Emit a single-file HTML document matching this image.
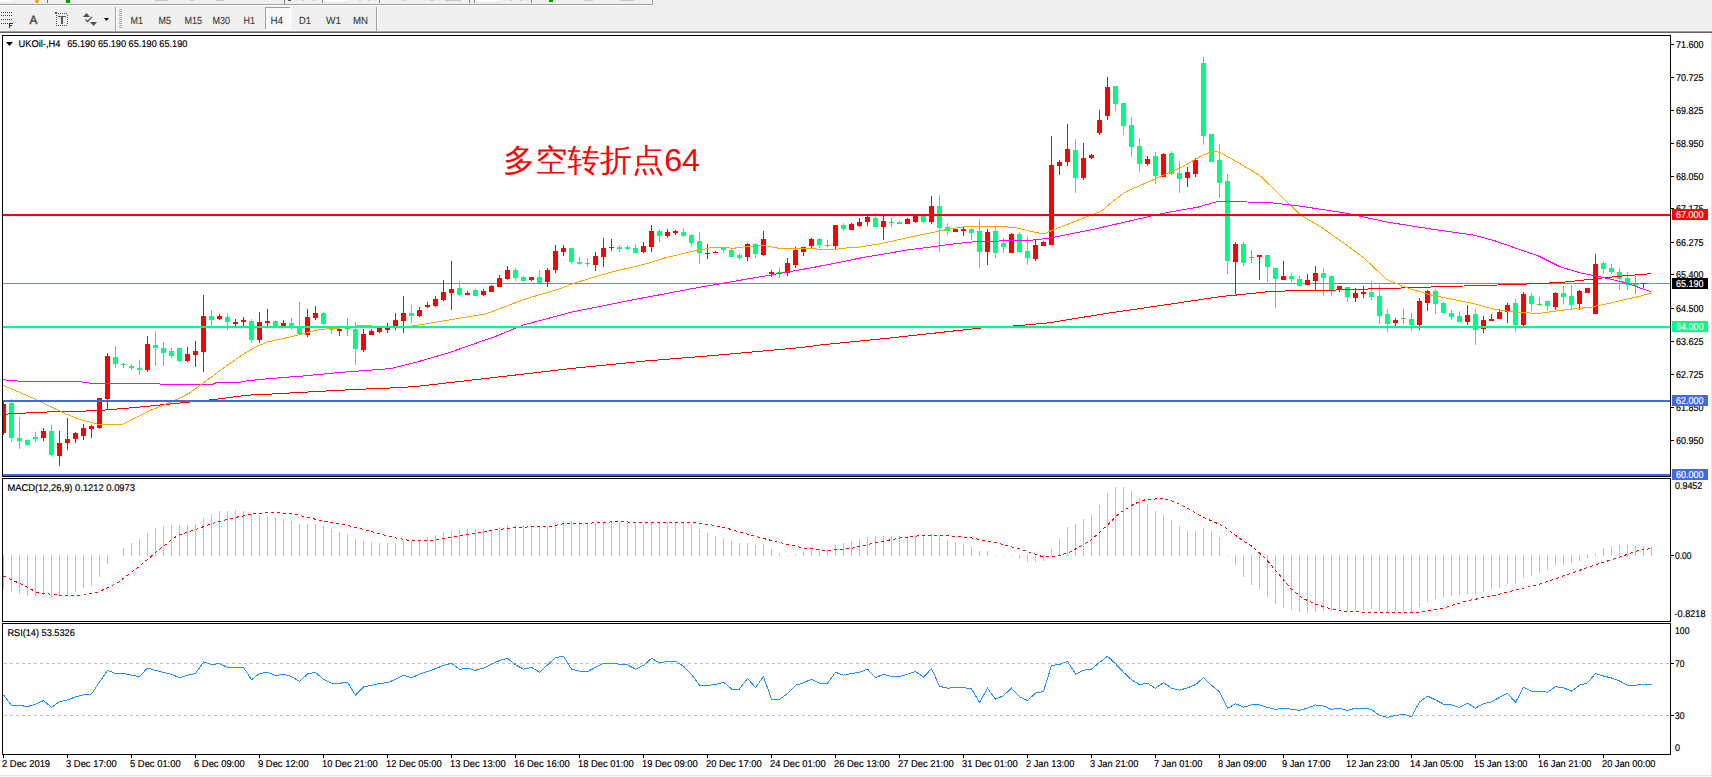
<!DOCTYPE html>
<html><head><meta charset="utf-8"><title>UKOil H4</title>
<style>
html,body{margin:0;padding:0;width:1712px;height:777px;overflow:hidden;background:#fff}
svg{display:block}
text{font-family:"Liberation Sans",sans-serif;text-rendering:geometricPrecision}
</style></head><body>
<svg width="1712" height="777" viewBox="0 0 1712 777">
<rect x="0" y="0" width="1712" height="33" fill="#f0f0f0"/>
<rect x="0" y="0" width="14" height="3" fill="#fafafa"/>
<rect x="1" y="2" width="1" height="1" fill="#d0d0d0"/>
<rect x="3" y="2" width="1" height="1" fill="#d0d0d0"/>
<rect x="5" y="2" width="1" height="1" fill="#d0d0d0"/>
<rect x="7" y="2" width="1" height="1" fill="#d0d0d0"/>
<rect x="9" y="2" width="1" height="1" fill="#d0d0d0"/>
<rect x="11" y="2" width="1" height="1" fill="#d0d0d0"/>
<rect x="13" y="2" width="1" height="1" fill="#d0d0d0"/>
<rect x="0" y="4" width="653" height="1" fill="#a0a0a0"/>
<rect x="0" y="5" width="653" height="1" fill="#ffffff"/>
<rect x="652" y="0" width="1" height="5" fill="#a0a0a0"/>
<rect x="35" y="0" width="4" height="2" fill="#e8b020"/>
<rect x="36" y="2" width="2" height="1" fill="#c89010"/>
<rect x="47" y="0" width="1" height="3" fill="#707070"/>
<rect x="66" y="0" width="4" height="3" fill="#00a000"/>
<rect x="155" y="0" width="13" height="1" fill="#c8c8c8"/>
<rect x="190" y="0" width="4" height="1" fill="#c8c8c8"/>
<rect x="216" y="0" width="8" height="1" fill="#c8c8c8"/>
<rect x="284" y="0" width="1" height="4" fill="#808080"/>
<rect x="288" y="0" width="3" height="1" fill="#505050"/>
<rect x="302" y="0" width="2" height="1" fill="#d0d0d0"/>
<rect x="313" y="0" width="2" height="1" fill="#d0d0d0"/>
<rect x="322" y="0" width="1" height="3" fill="#808080"/>
<rect x="323" y="0" width="24" height="3" fill="#fafafa"/>
<rect x="324" y="2" width="1" height="1" fill="#d0d0d0"/>
<rect x="326" y="2" width="1" height="1" fill="#d0d0d0"/>
<rect x="328" y="2" width="1" height="1" fill="#d0d0d0"/>
<rect x="330" y="2" width="1" height="1" fill="#d0d0d0"/>
<rect x="332" y="2" width="1" height="1" fill="#d0d0d0"/>
<rect x="334" y="2" width="1" height="1" fill="#d0d0d0"/>
<rect x="336" y="2" width="1" height="1" fill="#d0d0d0"/>
<rect x="338" y="2" width="1" height="1" fill="#d0d0d0"/>
<rect x="340" y="2" width="1" height="1" fill="#d0d0d0"/>
<rect x="342" y="2" width="1" height="1" fill="#d0d0d0"/>
<rect x="344" y="2" width="1" height="1" fill="#d0d0d0"/>
<rect x="346" y="2" width="1" height="1" fill="#d0d0d0"/>
<rect x="359" y="0" width="2" height="1" fill="#d0d0d0"/>
<rect x="368" y="0" width="2" height="1" fill="#d0d0d0"/>
<rect x="379" y="0" width="1" height="3" fill="#808080"/>
<rect x="402" y="0" width="4" height="1" fill="#d0d0d0"/>
<rect x="430" y="0" width="4" height="1" fill="#d0d0d0"/>
<rect x="445" y="0" width="16" height="1" fill="#c8c8c8"/>
<rect x="469" y="0" width="1" height="3" fill="#808080"/>
<rect x="474" y="0" width="1" height="3" fill="#808080"/>
<rect x="475" y="0" width="24" height="3" fill="#fafafa"/>
<rect x="476" y="2" width="1" height="1" fill="#d0d0d0"/>
<rect x="478" y="2" width="1" height="1" fill="#d0d0d0"/>
<rect x="480" y="2" width="1" height="1" fill="#d0d0d0"/>
<rect x="482" y="2" width="1" height="1" fill="#d0d0d0"/>
<rect x="484" y="2" width="1" height="1" fill="#d0d0d0"/>
<rect x="486" y="2" width="1" height="1" fill="#d0d0d0"/>
<rect x="488" y="2" width="1" height="1" fill="#d0d0d0"/>
<rect x="490" y="2" width="1" height="1" fill="#d0d0d0"/>
<rect x="492" y="2" width="1" height="1" fill="#d0d0d0"/>
<rect x="494" y="2" width="1" height="1" fill="#d0d0d0"/>
<rect x="496" y="2" width="1" height="1" fill="#d0d0d0"/>
<rect x="498" y="2" width="1" height="1" fill="#d0d0d0"/>
<rect x="510" y="0" width="2" height="1" fill="#d0d0d0"/>
<rect x="520" y="0" width="2" height="1" fill="#d0d0d0"/>
<rect x="531" y="0" width="1" height="3" fill="#808080"/>
<rect x="549" y="0" width="4" height="2" fill="#00a000"/>
<rect x="584" y="0" width="9" height="1" fill="#d0d0d0"/>
<rect x="620" y="0" width="14" height="1" fill="#c8c8c8"/>
<rect x="0" y="30" width="1712" height="1" fill="#f5f5f5"/>
<rect x="0" y="31" width="1712" height="1" fill="#a0a0a0"/>
<rect x="0" y="32" width="1712" height="1" fill="#646464"/>
<rect x="0" y="33" width="1712" height="744" fill="#ffffff"/>
<rect x="1" y="12" width="1" height="1" fill="#404040"/>
<rect x="3" y="12" width="1" height="1" fill="#404040"/>
<rect x="5" y="12" width="1" height="1" fill="#404040"/>
<rect x="7" y="12" width="1" height="1" fill="#404040"/>
<rect x="9" y="12" width="1" height="1" fill="#404040"/>
<rect x="11" y="12" width="1" height="1" fill="#404040"/>
<rect x="1" y="15" width="1" height="1" fill="#404040"/>
<rect x="3" y="15" width="1" height="1" fill="#404040"/>
<rect x="5" y="15" width="1" height="1" fill="#404040"/>
<rect x="7" y="15" width="1" height="1" fill="#404040"/>
<rect x="9" y="15" width="1" height="1" fill="#404040"/>
<rect x="11" y="15" width="1" height="1" fill="#404040"/>
<rect x="1" y="19" width="1" height="1" fill="#404040"/>
<rect x="3" y="19" width="1" height="1" fill="#404040"/>
<rect x="5" y="19" width="1" height="1" fill="#404040"/>
<rect x="7" y="19" width="1" height="1" fill="#404040"/>
<rect x="9" y="19" width="1" height="1" fill="#404040"/>
<rect x="11" y="19" width="1" height="1" fill="#404040"/>
<rect x="1" y="23" width="1" height="1" fill="#404040"/>
<rect x="3" y="23" width="1" height="1" fill="#404040"/>
<rect x="5" y="23" width="1" height="1" fill="#404040"/>
<rect x="7" y="23" width="1" height="1" fill="#404040"/>
<rect x="9" y="23" width="1" height="5" fill="#303030"/>
<rect x="9" y="23" width="4" height="1" fill="#303030"/>
<rect x="9" y="25" width="3" height="1" fill="#303030"/>
<text x="29.6" y="24" font-size="12" fill="#4a4a4a" textLength="7.8" lengthAdjust="spacingAndGlyphs" stroke="#4a4a4a" stroke-width="0.5">A</text>
<rect x="56" y="13" width="1" height="1" fill="#505050"/>
<rect x="56" y="25" width="1" height="1" fill="#505050"/>
<rect x="58" y="13" width="1" height="1" fill="#505050"/>
<rect x="58" y="25" width="1" height="1" fill="#505050"/>
<rect x="60" y="13" width="1" height="1" fill="#505050"/>
<rect x="60" y="25" width="1" height="1" fill="#505050"/>
<rect x="62" y="13" width="1" height="1" fill="#505050"/>
<rect x="62" y="25" width="1" height="1" fill="#505050"/>
<rect x="64" y="13" width="1" height="1" fill="#505050"/>
<rect x="64" y="25" width="1" height="1" fill="#505050"/>
<rect x="66" y="13" width="1" height="1" fill="#505050"/>
<rect x="66" y="25" width="1" height="1" fill="#505050"/>
<rect x="56" y="15" width="1" height="1" fill="#505050"/>
<rect x="67" y="15" width="1" height="1" fill="#505050"/>
<rect x="56" y="17" width="1" height="1" fill="#505050"/>
<rect x="67" y="17" width="1" height="1" fill="#505050"/>
<rect x="56" y="19" width="1" height="1" fill="#505050"/>
<rect x="67" y="19" width="1" height="1" fill="#505050"/>
<rect x="56" y="21" width="1" height="1" fill="#505050"/>
<rect x="67" y="21" width="1" height="1" fill="#505050"/>
<rect x="56" y="23" width="1" height="1" fill="#505050"/>
<rect x="67" y="23" width="1" height="1" fill="#505050"/>
<rect x="55" y="12" width="2" height="2" fill="#505050"/>
<rect x="58" y="16" width="8" height="1" fill="#555555"/>
<rect x="61" y="16" width="2" height="8" fill="#555555"/>
<polygon points="83,17 86.5,13 90,17" fill="#505050"/>
<polygon points="90,22 97,22 93.5,26" fill="#505050"/>
<polyline points="85.5,19.5 87.5,21.5 92,17" fill="none" stroke="#505050" stroke-width="1.3"/>
<polygon points="104,18 109,18 106.5,21" fill="#000"/>
<rect x="115" y="7" width="1" height="24" fill="#a0a0a0"/>
<rect x="116" y="7" width="1" height="24" fill="#ffffff"/>
<rect x="119" y="9" width="3" height="1" fill="#a8a8a8"/>
<rect x="119" y="11" width="3" height="1" fill="#a8a8a8"/>
<rect x="119" y="13" width="3" height="1" fill="#a8a8a8"/>
<rect x="119" y="15" width="3" height="1" fill="#a8a8a8"/>
<rect x="119" y="17" width="3" height="1" fill="#a8a8a8"/>
<rect x="119" y="19" width="3" height="1" fill="#a8a8a8"/>
<rect x="119" y="21" width="3" height="1" fill="#a8a8a8"/>
<rect x="119" y="23" width="3" height="1" fill="#a8a8a8"/>
<rect x="119" y="25" width="3" height="1" fill="#a8a8a8"/>
<rect x="119" y="27" width="3" height="1" fill="#a8a8a8"/>
<rect x="265" y="7" width="26" height="23" fill="#f7f7f7"/>
<rect x="265" y="7" width="25" height="1" fill="#a0a0a0"/>
<rect x="265" y="7" width="1" height="22" fill="#a0a0a0"/>
<rect x="265" y="29" width="26" height="1" fill="#ffffff"/>
<rect x="290" y="7" width="1" height="23" fill="#ffffff"/>
<text x="130.5" y="23.7" font-size="10.3" fill="#3a3a3a" textLength="12.5" lengthAdjust="spacingAndGlyphs" stroke="#3a3a3a" stroke-width="0.12">M1</text>
<text x="158.5" y="23.7" font-size="10.3" fill="#3a3a3a" textLength="12.5" lengthAdjust="spacingAndGlyphs" stroke="#3a3a3a" stroke-width="0.12">M5</text>
<text x="184.5" y="23.7" font-size="10.3" fill="#3a3a3a" textLength="17.5" lengthAdjust="spacingAndGlyphs" stroke="#3a3a3a" stroke-width="0.12">M15</text>
<text x="212.5" y="23.7" font-size="10.3" fill="#3a3a3a" textLength="17.5" lengthAdjust="spacingAndGlyphs" stroke="#3a3a3a" stroke-width="0.12">M30</text>
<text x="243.5" y="23.7" font-size="10.3" fill="#3a3a3a" textLength="11.5" lengthAdjust="spacingAndGlyphs" stroke="#3a3a3a" stroke-width="0.12">H1</text>
<text x="270.5" y="23.7" font-size="10.3" fill="#3a3a3a" textLength="12.5" lengthAdjust="spacingAndGlyphs" stroke="#3a3a3a" stroke-width="0.12">H4</text>
<text x="299" y="23.7" font-size="10.3" fill="#3a3a3a" textLength="12" lengthAdjust="spacingAndGlyphs" stroke="#3a3a3a" stroke-width="0.12">D1</text>
<text x="326" y="23.7" font-size="10.3" fill="#3a3a3a" textLength="15" lengthAdjust="spacingAndGlyphs" stroke="#3a3a3a" stroke-width="0.12">W1</text>
<text x="353" y="23.7" font-size="10.3" fill="#3a3a3a" textLength="15" lengthAdjust="spacingAndGlyphs" stroke="#3a3a3a" stroke-width="0.12">MN</text>
<rect x="376" y="7" width="1" height="24" fill="#a0a0a0"/>
<rect x="377" y="7" width="1" height="24" fill="#ffffff"/>
<rect x="3" y="283" width="1667" height="1" fill="#778899"/>
<g shape-rendering="crispEdges"><rect x="3" y="400" width="1" height="35" fill="#ff0000"/><rect x="3" y="404" width="3" height="29" fill="#ff0000"/><rect x="11" y="399" width="1" height="43" fill="#00ff7f"/><rect x="9" y="403" width="5" height="35" fill="#00ff7f"/><rect x="19" y="417" width="1" height="32" fill="#00ff7f"/><rect x="17" y="438" width="5" height="3" fill="#00ff7f"/><rect x="27" y="439" width="1" height="7" fill="#00ff7f"/><rect x="25" y="440" width="5" height="5" fill="#00ff7f"/><rect x="35" y="432" width="1" height="10" fill="#00ff7f"/><rect x="33" y="437" width="5" height="2" fill="#00ff7f"/><rect x="43" y="428" width="1" height="13" fill="#ff0000"/><rect x="41" y="431" width="5" height="7" fill="#ff0000"/><rect x="51" y="425" width="1" height="31" fill="#00ff7f"/><rect x="49" y="431" width="5" height="24" fill="#00ff7f"/><rect x="59" y="431" width="1" height="35" fill="#ff0000"/><rect x="57" y="443" width="5" height="13" fill="#ff0000"/><rect x="67" y="418" width="1" height="32" fill="#ff0000"/><rect x="65" y="439" width="5" height="4" fill="#ff0000"/><rect x="75" y="432" width="1" height="11" fill="#ff0000"/><rect x="73" y="433" width="5" height="6" fill="#ff0000"/><rect x="83" y="424" width="1" height="16" fill="#ff0000"/><rect x="81" y="428" width="5" height="8" fill="#ff0000"/><rect x="91" y="425" width="1" height="13" fill="#ff0000"/><rect x="89" y="426" width="5" height="3" fill="#ff0000"/><rect x="99" y="398" width="1" height="31" fill="#ff0000"/><rect x="97" y="398" width="5" height="30" fill="#ff0000"/><rect x="107" y="353" width="1" height="56" fill="#ff0000"/><rect x="105" y="356" width="5" height="43" fill="#ff0000"/><rect x="115" y="346" width="1" height="22" fill="#00ff7f"/><rect x="113" y="357" width="5" height="7" fill="#00ff7f"/><rect x="123" y="363" width="1" height="5" fill="#00ff00"/><rect x="121" y="364" width="5" height="1" fill="#00ff00"/><rect x="131" y="364" width="1" height="6" fill="#00ff7f"/><rect x="129" y="366" width="5" height="2" fill="#00ff7f"/><rect x="139" y="360" width="1" height="15" fill="#00ff7f"/><rect x="137" y="368" width="5" height="2" fill="#00ff7f"/><rect x="147" y="336" width="1" height="36" fill="#ff0000"/><rect x="145" y="344" width="5" height="26" fill="#ff0000"/><rect x="155" y="331" width="1" height="35" fill="#00ff7f"/><rect x="153" y="345" width="5" height="3" fill="#00ff7f"/><rect x="163" y="342" width="1" height="24" fill="#00ff7f"/><rect x="161" y="348" width="5" height="5" fill="#00ff7f"/><rect x="171" y="348" width="1" height="10" fill="#00ff7f"/><rect x="169" y="351" width="5" height="5" fill="#00ff7f"/><rect x="179" y="348" width="1" height="14" fill="#00ff7f"/><rect x="177" y="348" width="5" height="13" fill="#00ff7f"/><rect x="187" y="347" width="1" height="15" fill="#ff0000"/><rect x="185" y="354" width="5" height="7" fill="#ff0000"/><rect x="195" y="341" width="1" height="26" fill="#ff0000"/><rect x="193" y="351" width="5" height="4" fill="#ff0000"/><rect x="203" y="295" width="1" height="77" fill="#ff0000"/><rect x="201" y="316" width="5" height="36" fill="#ff0000"/><rect x="211" y="310" width="1" height="19" fill="#00ff7f"/><rect x="209" y="316" width="5" height="4" fill="#00ff7f"/><rect x="219" y="314" width="1" height="6" fill="#ff0000"/><rect x="217" y="316" width="5" height="3" fill="#ff0000"/><rect x="227" y="313" width="1" height="17" fill="#00ff7f"/><rect x="225" y="317" width="5" height="5" fill="#00ff7f"/><rect x="235" y="319" width="1" height="7" fill="#ff0000"/><rect x="233" y="322" width="5" height="2" fill="#ff0000"/><rect x="243" y="317" width="1" height="9" fill="#ff0000"/><rect x="241" y="320" width="5" height="2" fill="#ff0000"/><rect x="251" y="319" width="1" height="24" fill="#00ff7f"/><rect x="249" y="321" width="5" height="19" fill="#00ff7f"/><rect x="259" y="312" width="1" height="31" fill="#ff0000"/><rect x="257" y="322" width="5" height="18" fill="#ff0000"/><rect x="267" y="309" width="1" height="17" fill="#ff0000"/><rect x="265" y="321" width="5" height="2" fill="#ff0000"/><rect x="275" y="320" width="1" height="7" fill="#00ff7f"/><rect x="273" y="321" width="5" height="6" fill="#00ff7f"/><rect x="283" y="320" width="1" height="6" fill="#ff0000"/><rect x="281" y="323" width="5" height="3" fill="#ff0000"/><rect x="291" y="318" width="1" height="12" fill="#00ff7f"/><rect x="289" y="323" width="5" height="4" fill="#00ff7f"/><rect x="299" y="302" width="1" height="32" fill="#00ff7f"/><rect x="297" y="327" width="5" height="7" fill="#00ff7f"/><rect x="307" y="309" width="1" height="28" fill="#ff0000"/><rect x="305" y="317" width="5" height="18" fill="#ff0000"/><rect x="315" y="306" width="1" height="14" fill="#ff0000"/><rect x="313" y="313" width="5" height="5" fill="#ff0000"/><rect x="323" y="312" width="1" height="13" fill="#00ff7f"/><rect x="321" y="313" width="5" height="11" fill="#00ff7f"/><rect x="331" y="327" width="1" height="7" fill="#00ff7f"/><rect x="329" y="328" width="5" height="2" fill="#00ff7f"/><rect x="339" y="328" width="1" height="8" fill="#ff0000"/><rect x="337" y="329" width="5" height="2" fill="#ff0000"/><rect x="347" y="318" width="1" height="18" fill="#00ff00"/><rect x="345" y="328" width="5" height="1" fill="#00ff00"/><rect x="355" y="322" width="1" height="43" fill="#00ff7f"/><rect x="353" y="329" width="5" height="20" fill="#00ff7f"/><rect x="363" y="329" width="1" height="23" fill="#ff0000"/><rect x="361" y="334" width="5" height="16" fill="#ff0000"/><rect x="371" y="329" width="1" height="6" fill="#ff0000"/><rect x="369" y="331" width="5" height="4" fill="#ff0000"/><rect x="379" y="328" width="1" height="5" fill="#ff0000"/><rect x="377" y="328" width="5" height="4" fill="#ff0000"/><rect x="387" y="323" width="1" height="10" fill="#ff0000"/><rect x="385" y="328" width="5" height="2" fill="#ff0000"/><rect x="395" y="313" width="1" height="17" fill="#ff0000"/><rect x="393" y="320" width="5" height="6" fill="#ff0000"/><rect x="403" y="296" width="1" height="37" fill="#ff0000"/><rect x="401" y="313" width="5" height="8" fill="#ff0000"/><rect x="411" y="305" width="1" height="18" fill="#00ff7f"/><rect x="409" y="313" width="5" height="3" fill="#00ff7f"/><rect x="419" y="307" width="1" height="10" fill="#ff0000"/><rect x="417" y="310" width="5" height="6" fill="#ff0000"/><rect x="427" y="302" width="1" height="6" fill="#ff0000"/><rect x="425" y="305" width="5" height="2" fill="#ff0000"/><rect x="435" y="296" width="1" height="11" fill="#ff0000"/><rect x="433" y="299" width="5" height="7" fill="#ff0000"/><rect x="443" y="280" width="1" height="21" fill="#ff0000"/><rect x="441" y="292" width="5" height="8" fill="#ff0000"/><rect x="451" y="261" width="1" height="49" fill="#ff0000"/><rect x="449" y="289" width="5" height="4" fill="#ff0000"/><rect x="459" y="281" width="1" height="15" fill="#00ff7f"/><rect x="457" y="288" width="5" height="7" fill="#00ff7f"/><rect x="467" y="291" width="1" height="4" fill="#ff0000"/><rect x="465" y="293" width="5" height="2" fill="#ff0000"/><rect x="475" y="289" width="1" height="7" fill="#00ff7f"/><rect x="473" y="290" width="5" height="6" fill="#00ff7f"/><rect x="483" y="289" width="1" height="7" fill="#ff0000"/><rect x="481" y="291" width="5" height="4" fill="#ff0000"/><rect x="491" y="285" width="1" height="7" fill="#ff0000"/><rect x="489" y="286" width="5" height="6" fill="#ff0000"/><rect x="499" y="275" width="1" height="12" fill="#ff0000"/><rect x="497" y="278" width="5" height="9" fill="#ff0000"/><rect x="507" y="266" width="1" height="14" fill="#ff0000"/><rect x="505" y="270" width="5" height="9" fill="#ff0000"/><rect x="515" y="268" width="1" height="13" fill="#00ff7f"/><rect x="513" y="270" width="5" height="8" fill="#00ff7f"/><rect x="523" y="276" width="1" height="5" fill="#00ff7f"/><rect x="521" y="277" width="5" height="4" fill="#00ff7f"/><rect x="531" y="277" width="1" height="4" fill="#ff0000"/><rect x="529" y="277" width="5" height="3" fill="#ff0000"/><rect x="539" y="270" width="1" height="13" fill="#00ff7f"/><rect x="537" y="277" width="5" height="6" fill="#00ff7f"/><rect x="547" y="268" width="1" height="19" fill="#ff0000"/><rect x="545" y="270" width="5" height="12" fill="#ff0000"/><rect x="555" y="245" width="1" height="28" fill="#ff0000"/><rect x="553" y="251" width="5" height="19" fill="#ff0000"/><rect x="563" y="245" width="1" height="11" fill="#ff0000"/><rect x="561" y="248" width="5" height="4" fill="#ff0000"/><rect x="571" y="248" width="1" height="16" fill="#00ff7f"/><rect x="569" y="248" width="5" height="14" fill="#00ff7f"/><rect x="579" y="257" width="1" height="8" fill="#00ff7f"/><rect x="577" y="262" width="5" height="2" fill="#00ff7f"/><rect x="587" y="258" width="1" height="9" fill="#00ff7f"/><rect x="585" y="263" width="5" height="1" fill="#00ff7f"/><rect x="595" y="252" width="1" height="19" fill="#ff0000"/><rect x="593" y="256" width="5" height="9" fill="#ff0000"/><rect x="603" y="238" width="1" height="29" fill="#ff0000"/><rect x="601" y="248" width="5" height="9" fill="#ff0000"/><rect x="611" y="239" width="1" height="12" fill="#ff0000"/><rect x="609" y="247" width="5" height="1" fill="#ff0000"/><rect x="619" y="245" width="1" height="7" fill="#00ff7f"/><rect x="617" y="247" width="5" height="2" fill="#00ff7f"/><rect x="627" y="245" width="1" height="5" fill="#00ff7f"/><rect x="625" y="247" width="5" height="2" fill="#00ff7f"/><rect x="635" y="244" width="1" height="9" fill="#00ff7f"/><rect x="633" y="248" width="5" height="5" fill="#00ff7f"/><rect x="643" y="242" width="1" height="11" fill="#ff0000"/><rect x="641" y="246" width="5" height="6" fill="#ff0000"/><rect x="651" y="225" width="1" height="27" fill="#ff0000"/><rect x="649" y="231" width="5" height="16" fill="#ff0000"/><rect x="659" y="229" width="1" height="13" fill="#00ff7f"/><rect x="657" y="231" width="5" height="5" fill="#00ff7f"/><rect x="667" y="229" width="1" height="9" fill="#ff0000"/><rect x="665" y="232" width="5" height="4" fill="#ff0000"/><rect x="675" y="230" width="1" height="5" fill="#ff0000"/><rect x="673" y="231" width="5" height="2" fill="#ff0000"/><rect x="683" y="228" width="1" height="9" fill="#00ff7f"/><rect x="681" y="232" width="5" height="4" fill="#00ff7f"/><rect x="691" y="234" width="1" height="13" fill="#00ff7f"/><rect x="689" y="235" width="5" height="8" fill="#00ff7f"/><rect x="699" y="232" width="1" height="32" fill="#00ff7f"/><rect x="697" y="241" width="5" height="12" fill="#00ff7f"/><rect x="707" y="244" width="1" height="15" fill="#ff0000"/><rect x="705" y="253" width="5" height="1" fill="#ff0000"/><rect x="715" y="251" width="1" height="2" fill="#ff0000"/><rect x="713" y="252" width="5" height="1" fill="#ff0000"/><rect x="723" y="248" width="1" height="5" fill="#00ff7f"/><rect x="721" y="248" width="5" height="2" fill="#00ff7f"/><rect x="731" y="249" width="1" height="8" fill="#00ff7f"/><rect x="729" y="250" width="5" height="7" fill="#00ff7f"/><rect x="739" y="253" width="1" height="7" fill="#00ff7f"/><rect x="737" y="255" width="5" height="3" fill="#00ff7f"/><rect x="747" y="243" width="1" height="18" fill="#ff0000"/><rect x="745" y="244" width="5" height="13" fill="#ff0000"/><rect x="755" y="243" width="1" height="15" fill="#00ff7f"/><rect x="753" y="244" width="5" height="10" fill="#00ff7f"/><rect x="763" y="231" width="1" height="25" fill="#ff0000"/><rect x="761" y="239" width="5" height="16" fill="#ff0000"/><rect x="771" y="270" width="1" height="7" fill="#ff0000"/><rect x="769" y="272" width="5" height="2" fill="#ff0000"/><rect x="779" y="268" width="1" height="10" fill="#00ff00"/><rect x="777" y="272" width="5" height="1" fill="#00ff00"/><rect x="787" y="258" width="1" height="18" fill="#ff0000"/><rect x="785" y="263" width="5" height="10" fill="#ff0000"/><rect x="795" y="247" width="1" height="21" fill="#ff0000"/><rect x="793" y="250" width="5" height="15" fill="#ff0000"/><rect x="803" y="247" width="1" height="9" fill="#ff0000"/><rect x="801" y="247" width="5" height="5" fill="#ff0000"/><rect x="811" y="238" width="1" height="10" fill="#ff0000"/><rect x="809" y="239" width="5" height="7" fill="#ff0000"/><rect x="819" y="238" width="1" height="10" fill="#00ff7f"/><rect x="817" y="239" width="5" height="6" fill="#00ff7f"/><rect x="827" y="240" width="1" height="7" fill="#00ff00"/><rect x="825" y="245" width="5" height="1" fill="#00ff00"/><rect x="835" y="225" width="1" height="24" fill="#ff0000"/><rect x="833" y="225" width="5" height="21" fill="#ff0000"/><rect x="843" y="223" width="1" height="8" fill="#00ff7f"/><rect x="841" y="225" width="5" height="4" fill="#00ff7f"/><rect x="851" y="223" width="1" height="7" fill="#ff0000"/><rect x="849" y="224" width="5" height="6" fill="#ff0000"/><rect x="859" y="218" width="1" height="9" fill="#ff0000"/><rect x="857" y="222" width="5" height="4" fill="#ff0000"/><rect x="867" y="216" width="1" height="10" fill="#ff0000"/><rect x="865" y="217" width="5" height="5" fill="#ff0000"/><rect x="875" y="213" width="1" height="14" fill="#00ff7f"/><rect x="873" y="218" width="5" height="9" fill="#00ff7f"/><rect x="883" y="216" width="1" height="24" fill="#ff0000"/><rect x="881" y="221" width="5" height="6" fill="#ff0000"/><rect x="891" y="218" width="1" height="9" fill="#00ff00"/><rect x="889" y="222" width="5" height="1" fill="#00ff00"/><rect x="899" y="221" width="1" height="3" fill="#00ff7f"/><rect x="897" y="222" width="5" height="2" fill="#00ff7f"/><rect x="907" y="218" width="1" height="6" fill="#ff0000"/><rect x="905" y="219" width="5" height="5" fill="#ff0000"/><rect x="915" y="215" width="1" height="8" fill="#ff0000"/><rect x="913" y="216" width="5" height="6" fill="#ff0000"/><rect x="923" y="215" width="1" height="8" fill="#00ff7f"/><rect x="921" y="216" width="5" height="6" fill="#00ff7f"/><rect x="931" y="196" width="1" height="28" fill="#ff0000"/><rect x="929" y="206" width="5" height="16" fill="#ff0000"/><rect x="939" y="195" width="1" height="57" fill="#00ff7f"/><rect x="937" y="206" width="5" height="22" fill="#00ff7f"/><rect x="947" y="223" width="1" height="12" fill="#00ff7f"/><rect x="945" y="227" width="5" height="4" fill="#00ff7f"/><rect x="955" y="229" width="1" height="3" fill="#ff0000"/><rect x="953" y="229" width="5" height="3" fill="#ff0000"/><rect x="963" y="226" width="1" height="10" fill="#ff0000"/><rect x="961" y="229" width="5" height="2" fill="#ff0000"/><rect x="971" y="228" width="1" height="12" fill="#00ff7f"/><rect x="969" y="229" width="5" height="4" fill="#00ff7f"/><rect x="979" y="219" width="1" height="49" fill="#00ff7f"/><rect x="977" y="231" width="5" height="21" fill="#00ff7f"/><rect x="987" y="229" width="1" height="36" fill="#ff0000"/><rect x="985" y="232" width="5" height="20" fill="#ff0000"/><rect x="995" y="227" width="1" height="31" fill="#00ff7f"/><rect x="993" y="231" width="5" height="22" fill="#00ff7f"/><rect x="1003" y="238" width="1" height="15" fill="#00ff7f"/><rect x="1001" y="243" width="5" height="4" fill="#00ff7f"/><rect x="1011" y="233" width="1" height="20" fill="#ff0000"/><rect x="1009" y="234" width="5" height="19" fill="#ff0000"/><rect x="1019" y="232" width="1" height="20" fill="#00ff7f"/><rect x="1017" y="234" width="5" height="18" fill="#00ff7f"/><rect x="1027" y="236" width="1" height="29" fill="#00ff7f"/><rect x="1025" y="251" width="5" height="7" fill="#00ff7f"/><rect x="1035" y="240" width="1" height="21" fill="#ff0000"/><rect x="1033" y="245" width="5" height="14" fill="#ff0000"/><rect x="1043" y="241" width="1" height="5" fill="#ff0000"/><rect x="1041" y="242" width="5" height="4" fill="#ff0000"/><rect x="1051" y="136" width="1" height="109" fill="#ff0000"/><rect x="1049" y="165" width="5" height="80" fill="#ff0000"/><rect x="1059" y="160" width="1" height="15" fill="#ff0000"/><rect x="1057" y="162" width="5" height="4" fill="#ff0000"/><rect x="1067" y="124" width="1" height="42" fill="#ff0000"/><rect x="1065" y="149" width="5" height="13" fill="#ff0000"/><rect x="1075" y="139" width="1" height="54" fill="#00ff7f"/><rect x="1073" y="150" width="5" height="28" fill="#00ff7f"/><rect x="1083" y="143" width="1" height="37" fill="#ff0000"/><rect x="1081" y="158" width="5" height="20" fill="#ff0000"/><rect x="1091" y="154" width="1" height="5" fill="#ff0000"/><rect x="1089" y="155" width="5" height="3" fill="#ff0000"/><rect x="1099" y="110" width="1" height="25" fill="#ff0000"/><rect x="1097" y="120" width="5" height="13" fill="#ff0000"/><rect x="1107" y="77" width="1" height="43" fill="#ff0000"/><rect x="1105" y="87" width="5" height="29" fill="#ff0000"/><rect x="1115" y="86" width="1" height="25" fill="#00ff7f"/><rect x="1113" y="86" width="5" height="18" fill="#00ff7f"/><rect x="1123" y="103" width="1" height="32" fill="#00ff7f"/><rect x="1121" y="103" width="5" height="23" fill="#00ff7f"/><rect x="1131" y="117" width="1" height="40" fill="#00ff7f"/><rect x="1129" y="125" width="5" height="22" fill="#00ff7f"/><rect x="1139" y="138" width="1" height="34" fill="#00ff7f"/><rect x="1137" y="146" width="5" height="18" fill="#00ff7f"/><rect x="1147" y="156" width="1" height="10" fill="#ff0000"/><rect x="1145" y="159" width="5" height="5" fill="#ff0000"/><rect x="1155" y="152" width="1" height="32" fill="#00ff7f"/><rect x="1153" y="156" width="5" height="20" fill="#00ff7f"/><rect x="1163" y="153" width="1" height="24" fill="#ff0000"/><rect x="1161" y="154" width="5" height="23" fill="#ff0000"/><rect x="1171" y="151" width="1" height="24" fill="#00ff7f"/><rect x="1169" y="153" width="5" height="21" fill="#00ff7f"/><rect x="1179" y="161" width="1" height="32" fill="#00ff7f"/><rect x="1177" y="173" width="5" height="6" fill="#00ff7f"/><rect x="1187" y="167" width="1" height="20" fill="#ff0000"/><rect x="1185" y="172" width="5" height="6" fill="#ff0000"/><rect x="1195" y="158" width="1" height="19" fill="#ff0000"/><rect x="1193" y="160" width="5" height="14" fill="#ff0000"/><rect x="1203" y="57" width="1" height="88" fill="#00ff7f"/><rect x="1201" y="63" width="5" height="73" fill="#00ff7f"/><rect x="1211" y="134" width="1" height="28" fill="#00ff7f"/><rect x="1209" y="134" width="5" height="28" fill="#00ff7f"/><rect x="1219" y="144" width="1" height="54" fill="#00ff7f"/><rect x="1217" y="160" width="5" height="23" fill="#00ff7f"/><rect x="1227" y="174" width="1" height="100" fill="#00ff7f"/><rect x="1225" y="181" width="5" height="80" fill="#00ff7f"/><rect x="1235" y="242" width="1" height="52" fill="#ff0000"/><rect x="1233" y="244" width="5" height="18" fill="#ff0000"/><rect x="1243" y="242" width="1" height="24" fill="#00ff7f"/><rect x="1241" y="244" width="5" height="19" fill="#00ff7f"/><rect x="1251" y="250" width="1" height="13" fill="#00ff00"/><rect x="1249" y="257" width="5" height="1" fill="#00ff00"/><rect x="1259" y="255" width="1" height="25" fill="#ff0000"/><rect x="1257" y="255" width="5" height="2" fill="#ff0000"/><rect x="1267" y="255" width="1" height="27" fill="#00ff7f"/><rect x="1265" y="255" width="5" height="12" fill="#00ff7f"/><rect x="1275" y="268" width="1" height="40" fill="#00ff7f"/><rect x="1273" y="268" width="5" height="11" fill="#00ff7f"/><rect x="1283" y="261" width="1" height="19" fill="#ff0000"/><rect x="1281" y="276" width="5" height="4" fill="#ff0000"/><rect x="1291" y="273" width="1" height="9" fill="#00ff7f"/><rect x="1289" y="276" width="5" height="3" fill="#00ff7f"/><rect x="1299" y="276" width="1" height="10" fill="#00ff7f"/><rect x="1297" y="279" width="5" height="7" fill="#00ff7f"/><rect x="1307" y="274" width="1" height="11" fill="#ff0000"/><rect x="1305" y="280" width="5" height="5" fill="#ff0000"/><rect x="1315" y="266" width="1" height="24" fill="#ff0000"/><rect x="1313" y="273" width="5" height="8" fill="#ff0000"/><rect x="1323" y="268" width="1" height="28" fill="#00ff7f"/><rect x="1321" y="273" width="5" height="5" fill="#00ff7f"/><rect x="1331" y="275" width="1" height="21" fill="#00ff7f"/><rect x="1329" y="276" width="5" height="14" fill="#00ff7f"/><rect x="1339" y="286" width="1" height="6" fill="#ff0000"/><rect x="1337" y="286" width="5" height="3" fill="#ff0000"/><rect x="1347" y="287" width="1" height="15" fill="#00ff7f"/><rect x="1345" y="287" width="5" height="10" fill="#00ff7f"/><rect x="1355" y="288" width="1" height="14" fill="#ff0000"/><rect x="1353" y="293" width="5" height="5" fill="#ff0000"/><rect x="1363" y="286" width="1" height="12" fill="#ff0000"/><rect x="1361" y="292" width="5" height="2" fill="#ff0000"/><rect x="1371" y="281" width="1" height="19" fill="#00ff7f"/><rect x="1369" y="292" width="5" height="5" fill="#00ff7f"/><rect x="1379" y="285" width="1" height="39" fill="#00ff7f"/><rect x="1377" y="296" width="5" height="20" fill="#00ff7f"/><rect x="1387" y="309" width="1" height="23" fill="#00ff7f"/><rect x="1385" y="314" width="5" height="10" fill="#00ff7f"/><rect x="1395" y="318" width="1" height="8" fill="#ff0000"/><rect x="1393" y="320" width="5" height="3" fill="#ff0000"/><rect x="1403" y="309" width="1" height="15" fill="#00ff00"/><rect x="1401" y="318" width="5" height="1" fill="#00ff00"/><rect x="1411" y="313" width="1" height="18" fill="#00ff7f"/><rect x="1409" y="319" width="5" height="6" fill="#00ff7f"/><rect x="1419" y="298" width="1" height="32" fill="#ff0000"/><rect x="1417" y="301" width="5" height="24" fill="#ff0000"/><rect x="1427" y="290" width="1" height="21" fill="#ff0000"/><rect x="1425" y="291" width="5" height="12" fill="#ff0000"/><rect x="1435" y="289" width="1" height="25" fill="#00ff7f"/><rect x="1433" y="291" width="5" height="13" fill="#00ff7f"/><rect x="1443" y="302" width="1" height="11" fill="#00ff7f"/><rect x="1441" y="303" width="5" height="10" fill="#00ff7f"/><rect x="1451" y="310" width="1" height="10" fill="#00ff7f"/><rect x="1449" y="313" width="5" height="4" fill="#00ff7f"/><rect x="1459" y="311" width="1" height="11" fill="#00ff7f"/><rect x="1457" y="316" width="5" height="6" fill="#00ff7f"/><rect x="1467" y="305" width="1" height="20" fill="#ff0000"/><rect x="1465" y="315" width="5" height="7" fill="#ff0000"/><rect x="1475" y="309" width="1" height="36" fill="#00ff7f"/><rect x="1473" y="314" width="5" height="16" fill="#00ff7f"/><rect x="1483" y="316" width="1" height="17" fill="#ff0000"/><rect x="1481" y="320" width="5" height="9" fill="#ff0000"/><rect x="1491" y="314" width="1" height="7" fill="#ff0000"/><rect x="1489" y="319" width="5" height="2" fill="#ff0000"/><rect x="1499" y="309" width="1" height="10" fill="#ff0000"/><rect x="1497" y="312" width="5" height="7" fill="#ff0000"/><rect x="1507" y="303" width="1" height="20" fill="#ff0000"/><rect x="1505" y="305" width="5" height="7" fill="#ff0000"/><rect x="1515" y="299" width="1" height="33" fill="#00ff7f"/><rect x="1513" y="303" width="5" height="22" fill="#00ff7f"/><rect x="1523" y="292" width="1" height="34" fill="#ff0000"/><rect x="1521" y="294" width="5" height="31" fill="#ff0000"/><rect x="1531" y="293" width="1" height="18" fill="#00ff7f"/><rect x="1529" y="296" width="5" height="8" fill="#00ff7f"/><rect x="1539" y="297" width="1" height="7" fill="#00ff00"/><rect x="1537" y="304" width="5" height="1" fill="#00ff00"/><rect x="1547" y="301" width="1" height="10" fill="#00ff7f"/><rect x="1545" y="301" width="5" height="5" fill="#00ff7f"/><rect x="1555" y="292" width="1" height="18" fill="#ff0000"/><rect x="1553" y="293" width="5" height="14" fill="#ff0000"/><rect x="1563" y="286" width="1" height="18" fill="#00ff7f"/><rect x="1561" y="293" width="5" height="4" fill="#00ff7f"/><rect x="1571" y="285" width="1" height="24" fill="#00ff7f"/><rect x="1569" y="296" width="5" height="9" fill="#00ff7f"/><rect x="1579" y="290" width="1" height="20" fill="#ff0000"/><rect x="1577" y="291" width="5" height="13" fill="#ff0000"/><rect x="1587" y="288" width="1" height="5" fill="#ff0000"/><rect x="1585" y="288" width="5" height="5" fill="#ff0000"/><rect x="1595" y="254" width="1" height="60" fill="#ff0000"/><rect x="1593" y="264" width="5" height="50" fill="#ff0000"/><rect x="1603" y="261" width="1" height="13" fill="#00ff7f"/><rect x="1601" y="263" width="5" height="6" fill="#00ff7f"/><rect x="1611" y="264" width="1" height="10" fill="#00ff7f"/><rect x="1609" y="268" width="5" height="4" fill="#00ff7f"/><rect x="1619" y="268" width="1" height="22" fill="#00ff7f"/><rect x="1617" y="272" width="5" height="7" fill="#00ff7f"/><rect x="1627" y="272" width="1" height="18" fill="#00ff7f"/><rect x="1625" y="278" width="5" height="7" fill="#00ff7f"/><rect x="1635" y="276" width="1" height="18" fill="#00ff00"/><rect x="1633" y="284" width="5" height="1" fill="#00ff00"/><rect x="1643" y="283" width="1" height="5" fill="#ff0000"/><rect x="1641" y="283" width="5" height="1" fill="#ff0000"/><rect x="1649" y="283" width="5" height="1" fill="#00ff00"/></g>
<g shape-rendering="crispEdges">
<polyline points="3.0,414.3 22.5,413.2 47.5,412.0 78.5,411.4 105.2,410.0 134.1,407.6 163.1,404.7 192.0,401.8 215.5,399.3 247.5,395.2 277.9,393.7 340.5,390.2 368.5,388.9 400.5,387.6 420.5,386.0 498.5,377.0 572.2,368.4 645.5,361.0 719.5,355.0 800.5,347.6 820.5,345.0 893.1,337.7 982.5,327.8 1007.5,326.5 1047.5,323.0 1109.3,313.0 1171.1,304.0 1220.5,296.6 1238.5,294.8 1265.5,292.0 1292.5,290.6 1322.5,290.5 1350.5,289.5 1386.5,288.5 1415.5,287.5 1447.5,286.5 1480.5,285.5 1515.5,284.5 1539.5,283.5 1559.5,282.5 1571.5,281.5 1579.5,280.5 1588.5,279.5 1606.5,277.5 1627.5,275.5 1643.5,274.5 1651.5,273.5" fill="none" stroke="#ff0000" stroke-width="1" />
<polyline points="3.0,379.8 28.5,381.8 71.5,381.2 88.1,382.5 90.5,383.5 158.5,383.6 161.5,384.5 212.5,384.5 216.5,382.5 240.0,382.3 247.5,380.7 270.3,378.5 300.7,376.2 340.5,372.4 391.3,368.5 420.5,361.0 449.5,352.5 498.5,335.3 523.2,325.0 572.2,312.0 633.5,299.7 665.5,293.7 691.2,288.8 717.0,284.3 742.7,279.8 765.5,276.0 786.2,272.2 812.0,267.7 837.7,262.6 860.5,258.0 881.2,254.5 907.0,250.0 932.7,246.8 955.5,243.6 976.2,241.6 1014.9,240.6 1030.3,240.3 1050.5,238.0 1091.8,229.7 1140.5,218.5 1162.5,213.4 1179.1,210.4 1198.5,207.0 1217.7,201.4 1247.5,202.0 1272.5,203.0 1289.0,204.7 1300.5,206.2 1343.7,212.7 1386.9,222.0 1430.2,228.9 1473.4,235.0 1495.0,240.8 1516.5,248.4 1538.2,255.9 1559.8,266.7 1581.5,273.2 1603.1,277.5 1624.7,282.5 1650.5,291.6" fill="none" stroke="#ff00ff" stroke-width="1" />
<polyline points="3.0,385.3 34.5,398.8 65.5,413.8 80.5,419.5 98.7,424.5 123.0,424.2 133.7,418.7 148.8,411.1 164.0,405.0 177.7,399.0 189.8,392.9 202.0,383.8 212.5,376.2 224.8,367.0 240.0,356.4 255.1,347.3 267.3,342.0 285.5,338.0 300.7,334.4 315.9,330.3 331.1,328.4 350.5,327.5 358.5,325.0 368.5,325.0 372.5,326.2 410.5,326.2 418.5,325.0 449.5,320.0 486.5,313.7 523.2,299.7 560.0,288.7 572.2,283.8 609.0,272.7 645.5,264.0 665.5,257.7 678.4,254.7 691.2,251.5 699.9,250.0 708.0,248.3 711.8,247.4 727.3,247.4 732.5,248.6 737.5,247.6 760.5,245.2 768.2,246.2 778.5,248.2 815.8,248.2 817.1,249.3 837.7,249.3 840.3,248.2 855.5,247.7 881.2,243.6 907.0,237.8 932.7,232.4 950.5,228.8 967.2,226.4 999.4,226.4 1014.9,227.5 1027.7,230.7 1040.5,233.3 1044.5,233.6 1050.5,231.0 1068.5,224.0 1091.8,214.7 1101.1,211.2 1114.9,199.6 1126.5,191.5 1152.5,180.0 1183.5,166.3 1202.0,155.5 1213.5,151.0 1220.5,152.7 1240.5,164.0 1259.2,175.0 1272.5,187.6 1289.0,203.8 1300.5,214.9 1322.1,227.8 1343.7,243.0 1365.3,259.2 1386.9,279.7 1408.5,288.3 1430.2,294.8 1451.8,299.1 1473.4,303.5 1495.0,309.5 1516.5,312.1 1538.2,313.6 1559.8,310.4 1580.5,308.2 1590.2,307.3 1599.8,305.3 1609.5,303.4 1619.1,301.0 1628.8,298.6 1638.5,296.6 1648.1,294.0 1651.5,293.0" fill="none" stroke="#ffa500" stroke-width="1" />
</g>
<rect x="3" y="214" width="1667" height="2" fill="#ff0000"/>
<rect x="3" y="326" width="1667" height="2" fill="#00ff7f"/>
<rect x="3" y="400" width="1667" height="2" fill="#4169e1"/>
<rect x="3" y="474" width="1667" height="2" fill="#4169e1"/>
<text x="503" y="171" font-size="31.5" fill="#ff0000" textLength="197" lengthAdjust="spacingAndGlyphs" font-family='"Liberation Sans","Noto Sans CJK SC","WenQuanYi Zen Hei",sans-serif' >多空转折点64</text>
<polygon points="6,42 13,42 9.5,46" fill="#000"/>
<text x="18.5" y="47" font-size="9.8" fill="#000" textLength="42" lengthAdjust="spacingAndGlyphs"  stroke="#000" stroke-width="0.18">UKOil-,H4</text>
<text x="67.2" y="47" font-size="9.8" fill="#000" textLength="120.3" lengthAdjust="spacingAndGlyphs"  stroke="#000" stroke-width="0.18">65.190 65.190 65.190 65.190</text>
<g shape-rendering="crispEdges"><rect x="3" y="555" width="1" height="35" fill="#c0c0c0"/><rect x="11" y="555" width="1" height="37" fill="#c0c0c0"/><rect x="19" y="555" width="1" height="39" fill="#c0c0c0"/><rect x="27" y="555" width="1" height="41" fill="#c0c0c0"/><rect x="35" y="555" width="1" height="41" fill="#c0c0c0"/><rect x="43" y="555" width="1" height="40" fill="#c0c0c0"/><rect x="51" y="555" width="1" height="43" fill="#c0c0c0"/><rect x="59" y="555" width="1" height="40" fill="#c0c0c0"/><rect x="67" y="555" width="1" height="39" fill="#c0c0c0"/><rect x="75" y="555" width="1" height="37" fill="#c0c0c0"/><rect x="83" y="555" width="1" height="33" fill="#c0c0c0"/><rect x="91" y="555" width="1" height="31" fill="#c0c0c0"/><rect x="99" y="555" width="1" height="22" fill="#c0c0c0"/><rect x="107" y="555" width="1" height="9" fill="#c0c0c0"/><rect x="123" y="548" width="1" height="8" fill="#c0c0c0"/><rect x="131" y="543" width="1" height="13" fill="#c0c0c0"/><rect x="139" y="539" width="1" height="17" fill="#c0c0c0"/><rect x="147" y="533" width="1" height="23" fill="#c0c0c0"/><rect x="155" y="528" width="1" height="28" fill="#c0c0c0"/><rect x="163" y="526" width="1" height="30" fill="#c0c0c0"/><rect x="171" y="525" width="1" height="31" fill="#c0c0c0"/><rect x="179" y="525" width="1" height="31" fill="#c0c0c0"/><rect x="187" y="525" width="1" height="31" fill="#c0c0c0"/><rect x="195" y="524" width="1" height="32" fill="#c0c0c0"/><rect x="203" y="518" width="1" height="38" fill="#c0c0c0"/><rect x="211" y="514" width="1" height="42" fill="#c0c0c0"/><rect x="219" y="511" width="1" height="45" fill="#c0c0c0"/><rect x="227" y="511" width="1" height="45" fill="#c0c0c0"/><rect x="235" y="510" width="1" height="46" fill="#c0c0c0"/><rect x="243" y="511" width="1" height="45" fill="#c0c0c0"/><rect x="251" y="514" width="1" height="42" fill="#c0c0c0"/><rect x="259" y="515" width="1" height="41" fill="#c0c0c0"/><rect x="267" y="516" width="1" height="40" fill="#c0c0c0"/><rect x="275" y="518" width="1" height="38" fill="#c0c0c0"/><rect x="283" y="519" width="1" height="37" fill="#c0c0c0"/><rect x="291" y="521" width="1" height="35" fill="#c0c0c0"/><rect x="299" y="524" width="1" height="32" fill="#c0c0c0"/><rect x="307" y="524" width="1" height="32" fill="#c0c0c0"/><rect x="315" y="524" width="1" height="32" fill="#c0c0c0"/><rect x="323" y="526" width="1" height="30" fill="#c0c0c0"/><rect x="331" y="529" width="1" height="27" fill="#c0c0c0"/><rect x="339" y="532" width="1" height="24" fill="#c0c0c0"/><rect x="347" y="534" width="1" height="22" fill="#c0c0c0"/><rect x="355" y="539" width="1" height="17" fill="#c0c0c0"/><rect x="363" y="541" width="1" height="15" fill="#c0c0c0"/><rect x="371" y="542" width="1" height="14" fill="#c0c0c0"/><rect x="379" y="543" width="1" height="13" fill="#c0c0c0"/><rect x="387" y="543" width="1" height="13" fill="#c0c0c0"/><rect x="395" y="543" width="1" height="13" fill="#c0c0c0"/><rect x="403" y="541" width="1" height="15" fill="#c0c0c0"/><rect x="411" y="541" width="1" height="15" fill="#c0c0c0"/><rect x="419" y="541" width="1" height="15" fill="#c0c0c0"/><rect x="427" y="537" width="1" height="19" fill="#c0c0c0"/><rect x="435" y="535" width="1" height="21" fill="#c0c0c0"/><rect x="443" y="532" width="1" height="24" fill="#c0c0c0"/><rect x="451" y="530" width="1" height="26" fill="#c0c0c0"/><rect x="459" y="529" width="1" height="27" fill="#c0c0c0"/><rect x="467" y="529" width="1" height="27" fill="#c0c0c0"/><rect x="475" y="529" width="1" height="27" fill="#c0c0c0"/><rect x="483" y="529" width="1" height="27" fill="#c0c0c0"/><rect x="491" y="530" width="1" height="26" fill="#c0c0c0"/><rect x="499" y="527" width="1" height="29" fill="#c0c0c0"/><rect x="507" y="525" width="1" height="31" fill="#c0c0c0"/><rect x="515" y="525" width="1" height="31" fill="#c0c0c0"/><rect x="523" y="525" width="1" height="31" fill="#c0c0c0"/><rect x="531" y="526" width="1" height="30" fill="#c0c0c0"/><rect x="539" y="526" width="1" height="30" fill="#c0c0c0"/><rect x="547" y="526" width="1" height="30" fill="#c0c0c0"/><rect x="555" y="523" width="1" height="33" fill="#c0c0c0"/><rect x="563" y="521" width="1" height="35" fill="#c0c0c0"/><rect x="571" y="521" width="1" height="35" fill="#c0c0c0"/><rect x="579" y="522" width="1" height="34" fill="#c0c0c0"/><rect x="587" y="523" width="1" height="33" fill="#c0c0c0"/><rect x="595" y="523" width="1" height="33" fill="#c0c0c0"/><rect x="603" y="522" width="1" height="34" fill="#c0c0c0"/><rect x="611" y="522" width="1" height="34" fill="#c0c0c0"/><rect x="619" y="522" width="1" height="34" fill="#c0c0c0"/><rect x="627" y="523" width="1" height="33" fill="#c0c0c0"/><rect x="635" y="524" width="1" height="32" fill="#c0c0c0"/><rect x="643" y="525" width="1" height="31" fill="#c0c0c0"/><rect x="651" y="522" width="1" height="34" fill="#c0c0c0"/><rect x="659" y="522" width="1" height="34" fill="#c0c0c0"/><rect x="667" y="522" width="1" height="34" fill="#c0c0c0"/><rect x="675" y="522" width="1" height="34" fill="#c0c0c0"/><rect x="683" y="522" width="1" height="34" fill="#c0c0c0"/><rect x="691" y="525" width="1" height="31" fill="#c0c0c0"/><rect x="699" y="529" width="1" height="27" fill="#c0c0c0"/><rect x="707" y="533" width="1" height="23" fill="#c0c0c0"/><rect x="715" y="536" width="1" height="20" fill="#c0c0c0"/><rect x="723" y="538" width="1" height="18" fill="#c0c0c0"/><rect x="731" y="541" width="1" height="15" fill="#c0c0c0"/><rect x="739" y="543" width="1" height="13" fill="#c0c0c0"/><rect x="747" y="543" width="1" height="13" fill="#c0c0c0"/><rect x="755" y="545" width="1" height="11" fill="#c0c0c0"/><rect x="763" y="544" width="1" height="12" fill="#c0c0c0"/><rect x="771" y="549" width="1" height="7" fill="#c0c0c0"/><rect x="779" y="553" width="1" height="3" fill="#c0c0c0"/><rect x="787" y="555" width="1" height="1" fill="#c0c0c0"/><rect x="795" y="554" width="1" height="2" fill="#c0c0c0"/><rect x="803" y="552" width="1" height="4" fill="#c0c0c0"/><rect x="811" y="550" width="1" height="6" fill="#c0c0c0"/><rect x="819" y="549" width="1" height="7" fill="#c0c0c0"/><rect x="827" y="549" width="1" height="7" fill="#c0c0c0"/><rect x="835" y="545" width="1" height="11" fill="#c0c0c0"/><rect x="843" y="543" width="1" height="13" fill="#c0c0c0"/><rect x="851" y="541" width="1" height="15" fill="#c0c0c0"/><rect x="859" y="539" width="1" height="17" fill="#c0c0c0"/><rect x="867" y="537" width="1" height="19" fill="#c0c0c0"/><rect x="875" y="536" width="1" height="20" fill="#c0c0c0"/><rect x="883" y="536" width="1" height="20" fill="#c0c0c0"/><rect x="891" y="536" width="1" height="20" fill="#c0c0c0"/><rect x="899" y="536" width="1" height="20" fill="#c0c0c0"/><rect x="907" y="536" width="1" height="20" fill="#c0c0c0"/><rect x="915" y="535" width="1" height="21" fill="#c0c0c0"/><rect x="923" y="535" width="1" height="21" fill="#c0c0c0"/><rect x="931" y="534" width="1" height="22" fill="#c0c0c0"/><rect x="939" y="537" width="1" height="19" fill="#c0c0c0"/><rect x="947" y="540" width="1" height="16" fill="#c0c0c0"/><rect x="955" y="542" width="1" height="14" fill="#c0c0c0"/><rect x="963" y="544" width="1" height="12" fill="#c0c0c0"/><rect x="971" y="546" width="1" height="10" fill="#c0c0c0"/><rect x="979" y="551" width="1" height="5" fill="#c0c0c0"/><rect x="987" y="551" width="1" height="5" fill="#c0c0c0"/><rect x="995" y="555" width="1" height="1" fill="#c0c0c0"/><rect x="1003" y="555" width="1" height="1" fill="#c0c0c0"/><rect x="1011" y="555" width="1" height="1" fill="#c0c0c0"/><rect x="1019" y="555" width="1" height="4" fill="#c0c0c0"/><rect x="1027" y="555" width="1" height="7" fill="#c0c0c0"/><rect x="1035" y="555" width="1" height="7" fill="#c0c0c0"/><rect x="1043" y="555" width="1" height="6" fill="#c0c0c0"/><rect x="1051" y="549" width="1" height="7" fill="#c0c0c0"/><rect x="1059" y="538" width="1" height="18" fill="#c0c0c0"/><rect x="1067" y="527" width="1" height="29" fill="#c0c0c0"/><rect x="1075" y="524" width="1" height="32" fill="#c0c0c0"/><rect x="1083" y="519" width="1" height="37" fill="#c0c0c0"/><rect x="1091" y="514" width="1" height="42" fill="#c0c0c0"/><rect x="1099" y="505" width="1" height="51" fill="#c0c0c0"/><rect x="1107" y="493" width="1" height="63" fill="#c0c0c0"/><rect x="1115" y="487" width="1" height="69" fill="#c0c0c0"/><rect x="1123" y="487" width="1" height="69" fill="#c0c0c0"/><rect x="1131" y="491" width="1" height="65" fill="#c0c0c0"/><rect x="1139" y="498" width="1" height="58" fill="#c0c0c0"/><rect x="1147" y="504" width="1" height="52" fill="#c0c0c0"/><rect x="1155" y="511" width="1" height="45" fill="#c0c0c0"/><rect x="1163" y="514" width="1" height="42" fill="#c0c0c0"/><rect x="1171" y="520" width="1" height="36" fill="#c0c0c0"/><rect x="1179" y="526" width="1" height="30" fill="#c0c0c0"/><rect x="1187" y="530" width="1" height="26" fill="#c0c0c0"/><rect x="1195" y="531" width="1" height="25" fill="#c0c0c0"/><rect x="1203" y="528" width="1" height="28" fill="#c0c0c0"/><rect x="1211" y="531" width="1" height="25" fill="#c0c0c0"/><rect x="1219" y="537" width="1" height="19" fill="#c0c0c0"/><rect x="1227" y="555" width="1" height="1" fill="#c0c0c0"/><rect x="1235" y="555" width="1" height="10" fill="#c0c0c0"/><rect x="1243" y="555" width="1" height="22" fill="#c0c0c0"/><rect x="1251" y="555" width="1" height="30" fill="#c0c0c0"/><rect x="1259" y="555" width="1" height="35" fill="#c0c0c0"/><rect x="1267" y="555" width="1" height="42" fill="#c0c0c0"/><rect x="1275" y="555" width="1" height="49" fill="#c0c0c0"/><rect x="1283" y="555" width="1" height="53" fill="#c0c0c0"/><rect x="1291" y="555" width="1" height="55" fill="#c0c0c0"/><rect x="1299" y="555" width="1" height="57" fill="#c0c0c0"/><rect x="1307" y="555" width="1" height="59" fill="#c0c0c0"/><rect x="1315" y="555" width="1" height="57" fill="#c0c0c0"/><rect x="1323" y="555" width="1" height="56" fill="#c0c0c0"/><rect x="1331" y="555" width="1" height="56" fill="#c0c0c0"/><rect x="1339" y="555" width="1" height="56" fill="#c0c0c0"/><rect x="1347" y="555" width="1" height="56" fill="#c0c0c0"/><rect x="1355" y="555" width="1" height="55" fill="#c0c0c0"/><rect x="1363" y="555" width="1" height="55" fill="#c0c0c0"/><rect x="1371" y="555" width="1" height="54" fill="#c0c0c0"/><rect x="1379" y="555" width="1" height="56" fill="#c0c0c0"/><rect x="1387" y="555" width="1" height="57" fill="#c0c0c0"/><rect x="1395" y="555" width="1" height="57" fill="#c0c0c0"/><rect x="1403" y="555" width="1" height="57" fill="#c0c0c0"/><rect x="1411" y="555" width="1" height="57" fill="#c0c0c0"/><rect x="1419" y="555" width="1" height="52" fill="#c0c0c0"/><rect x="1427" y="555" width="1" height="47" fill="#c0c0c0"/><rect x="1435" y="555" width="1" height="44" fill="#c0c0c0"/><rect x="1443" y="555" width="1" height="42" fill="#c0c0c0"/><rect x="1451" y="555" width="1" height="41" fill="#c0c0c0"/><rect x="1459" y="555" width="1" height="40" fill="#c0c0c0"/><rect x="1467" y="555" width="1" height="39" fill="#c0c0c0"/><rect x="1475" y="555" width="1" height="40" fill="#c0c0c0"/><rect x="1483" y="555" width="1" height="37" fill="#c0c0c0"/><rect x="1491" y="555" width="1" height="35" fill="#c0c0c0"/><rect x="1499" y="555" width="1" height="33" fill="#c0c0c0"/><rect x="1507" y="555" width="1" height="29" fill="#c0c0c0"/><rect x="1515" y="555" width="1" height="29" fill="#c0c0c0"/><rect x="1523" y="555" width="1" height="23" fill="#c0c0c0"/><rect x="1531" y="555" width="1" height="21" fill="#c0c0c0"/><rect x="1539" y="555" width="1" height="18" fill="#c0c0c0"/><rect x="1547" y="555" width="1" height="15" fill="#c0c0c0"/><rect x="1555" y="555" width="1" height="11" fill="#c0c0c0"/><rect x="1563" y="555" width="1" height="10" fill="#c0c0c0"/><rect x="1571" y="555" width="1" height="8" fill="#c0c0c0"/><rect x="1579" y="555" width="1" height="6" fill="#c0c0c0"/><rect x="1587" y="555" width="1" height="3" fill="#c0c0c0"/><rect x="1595" y="553" width="1" height="3" fill="#c0c0c0"/><rect x="1603" y="548" width="1" height="8" fill="#c0c0c0"/><rect x="1611" y="546" width="1" height="10" fill="#c0c0c0"/><rect x="1619" y="545" width="1" height="11" fill="#c0c0c0"/><rect x="1627" y="545" width="1" height="11" fill="#c0c0c0"/><rect x="1635" y="546" width="1" height="10" fill="#c0c0c0"/><rect x="1643" y="546" width="1" height="10" fill="#c0c0c0"/><rect x="1651" y="546" width="1" height="10" fill="#c0c0c0"/></g>
<g shape-rendering="crispEdges">
<polyline points="3.5,576.0 25.0,586.0 37.3,592.6 59.4,595.3 83.9,595.0 98.5,592.0 118.3,582.3 137.9,567.5 157.5,551.0 177.1,535.7 196.8,529.0 216.4,522.2 236.0,517.3 255.7,513.6 275.3,512.3 294.9,514.3 319.5,520.2 344.0,524.6 368.5,530.7 393.0,537.4 410.5,540.6 430.1,540.6 459.5,535.7 484.1,531.5 508.5,528.3 533.2,526.6 550.3,526.3 562.5,523.9 582.2,523.4 599.4,522.7 619.0,521.4 631.3,522.2 655.8,522.7 695.1,522.7 709.8,524.6 729.4,529.0 754.0,536.1 778.5,542.3 803.0,547.9 825.5,550.4 850.0,548.7 874.5,543.0 899.1,538.1 923.6,535.2 948.2,535.7 972.7,538.1 997.2,543.0 1021.8,549.6 1043.9,557.2 1058.5,556.0 1070.8,551.6 1090.5,540.6 1107.5,525.1 1119.9,512.8 1134.5,503.8 1144.5,500.0 1161.5,498.4 1169.0,499.6 1183.7,506.2 1203.3,517.3 1222.9,525.8 1240.5,539.0 1253.1,547.1 1265.5,558.4 1278.2,573.5 1290.7,588.5 1303.3,598.6 1315.9,604.3 1328.5,608.1 1341.0,611.1 1366.1,612.4 1416.3,612.4 1441.5,608.6 1466.5,601.0 1491.5,596.0 1516.8,589.8 1541.9,583.5 1567.1,574.7 1592.2,565.9 1617.3,557.9 1637.4,550.8 1652.5,548.3" fill="none" stroke="#ff0000" stroke-width="1" stroke-dasharray="3,3"/>
</g>
<text x="7.4" y="491" font-size="9.8" fill="#000" textLength="127.6" lengthAdjust="spacingAndGlyphs"  stroke="#000" stroke-width="0.18">MACD(12,26,9) 0.1212 0.0973</text>
<g shape-rendering="crispEdges"><rect x="4" y="663" width="3" height="1" fill="#c0c0c0"/><rect x="10" y="663" width="3" height="1" fill="#c0c0c0"/><rect x="16" y="663" width="3" height="1" fill="#c0c0c0"/><rect x="22" y="663" width="3" height="1" fill="#c0c0c0"/><rect x="28" y="663" width="3" height="1" fill="#c0c0c0"/><rect x="34" y="663" width="3" height="1" fill="#c0c0c0"/><rect x="40" y="663" width="3" height="1" fill="#c0c0c0"/><rect x="46" y="663" width="3" height="1" fill="#c0c0c0"/><rect x="52" y="663" width="3" height="1" fill="#c0c0c0"/><rect x="58" y="663" width="3" height="1" fill="#c0c0c0"/><rect x="64" y="663" width="3" height="1" fill="#c0c0c0"/><rect x="70" y="663" width="3" height="1" fill="#c0c0c0"/><rect x="76" y="663" width="3" height="1" fill="#c0c0c0"/><rect x="82" y="663" width="3" height="1" fill="#c0c0c0"/><rect x="88" y="663" width="3" height="1" fill="#c0c0c0"/><rect x="94" y="663" width="3" height="1" fill="#c0c0c0"/><rect x="100" y="663" width="3" height="1" fill="#c0c0c0"/><rect x="106" y="663" width="3" height="1" fill="#c0c0c0"/><rect x="112" y="663" width="3" height="1" fill="#c0c0c0"/><rect x="118" y="663" width="3" height="1" fill="#c0c0c0"/><rect x="124" y="663" width="3" height="1" fill="#c0c0c0"/><rect x="130" y="663" width="3" height="1" fill="#c0c0c0"/><rect x="136" y="663" width="3" height="1" fill="#c0c0c0"/><rect x="142" y="663" width="3" height="1" fill="#c0c0c0"/><rect x="148" y="663" width="3" height="1" fill="#c0c0c0"/><rect x="154" y="663" width="3" height="1" fill="#c0c0c0"/><rect x="160" y="663" width="3" height="1" fill="#c0c0c0"/><rect x="166" y="663" width="3" height="1" fill="#c0c0c0"/><rect x="172" y="663" width="3" height="1" fill="#c0c0c0"/><rect x="178" y="663" width="3" height="1" fill="#c0c0c0"/><rect x="184" y="663" width="3" height="1" fill="#c0c0c0"/><rect x="190" y="663" width="3" height="1" fill="#c0c0c0"/><rect x="196" y="663" width="3" height="1" fill="#c0c0c0"/><rect x="202" y="663" width="3" height="1" fill="#c0c0c0"/><rect x="208" y="663" width="3" height="1" fill="#c0c0c0"/><rect x="214" y="663" width="3" height="1" fill="#c0c0c0"/><rect x="220" y="663" width="3" height="1" fill="#c0c0c0"/><rect x="226" y="663" width="3" height="1" fill="#c0c0c0"/><rect x="232" y="663" width="3" height="1" fill="#c0c0c0"/><rect x="238" y="663" width="3" height="1" fill="#c0c0c0"/><rect x="244" y="663" width="3" height="1" fill="#c0c0c0"/><rect x="250" y="663" width="3" height="1" fill="#c0c0c0"/><rect x="256" y="663" width="3" height="1" fill="#c0c0c0"/><rect x="262" y="663" width="3" height="1" fill="#c0c0c0"/><rect x="268" y="663" width="3" height="1" fill="#c0c0c0"/><rect x="274" y="663" width="3" height="1" fill="#c0c0c0"/><rect x="280" y="663" width="3" height="1" fill="#c0c0c0"/><rect x="286" y="663" width="3" height="1" fill="#c0c0c0"/><rect x="292" y="663" width="3" height="1" fill="#c0c0c0"/><rect x="298" y="663" width="3" height="1" fill="#c0c0c0"/><rect x="304" y="663" width="3" height="1" fill="#c0c0c0"/><rect x="310" y="663" width="3" height="1" fill="#c0c0c0"/><rect x="316" y="663" width="3" height="1" fill="#c0c0c0"/><rect x="322" y="663" width="3" height="1" fill="#c0c0c0"/><rect x="328" y="663" width="3" height="1" fill="#c0c0c0"/><rect x="334" y="663" width="3" height="1" fill="#c0c0c0"/><rect x="340" y="663" width="3" height="1" fill="#c0c0c0"/><rect x="346" y="663" width="3" height="1" fill="#c0c0c0"/><rect x="352" y="663" width="3" height="1" fill="#c0c0c0"/><rect x="358" y="663" width="3" height="1" fill="#c0c0c0"/><rect x="364" y="663" width="3" height="1" fill="#c0c0c0"/><rect x="370" y="663" width="3" height="1" fill="#c0c0c0"/><rect x="376" y="663" width="3" height="1" fill="#c0c0c0"/><rect x="382" y="663" width="3" height="1" fill="#c0c0c0"/><rect x="388" y="663" width="3" height="1" fill="#c0c0c0"/><rect x="394" y="663" width="3" height="1" fill="#c0c0c0"/><rect x="400" y="663" width="3" height="1" fill="#c0c0c0"/><rect x="406" y="663" width="3" height="1" fill="#c0c0c0"/><rect x="412" y="663" width="3" height="1" fill="#c0c0c0"/><rect x="418" y="663" width="3" height="1" fill="#c0c0c0"/><rect x="424" y="663" width="3" height="1" fill="#c0c0c0"/><rect x="430" y="663" width="3" height="1" fill="#c0c0c0"/><rect x="436" y="663" width="3" height="1" fill="#c0c0c0"/><rect x="442" y="663" width="3" height="1" fill="#c0c0c0"/><rect x="448" y="663" width="3" height="1" fill="#c0c0c0"/><rect x="454" y="663" width="3" height="1" fill="#c0c0c0"/><rect x="460" y="663" width="3" height="1" fill="#c0c0c0"/><rect x="466" y="663" width="3" height="1" fill="#c0c0c0"/><rect x="472" y="663" width="3" height="1" fill="#c0c0c0"/><rect x="478" y="663" width="3" height="1" fill="#c0c0c0"/><rect x="484" y="663" width="3" height="1" fill="#c0c0c0"/><rect x="490" y="663" width="3" height="1" fill="#c0c0c0"/><rect x="496" y="663" width="3" height="1" fill="#c0c0c0"/><rect x="502" y="663" width="3" height="1" fill="#c0c0c0"/><rect x="508" y="663" width="3" height="1" fill="#c0c0c0"/><rect x="514" y="663" width="3" height="1" fill="#c0c0c0"/><rect x="520" y="663" width="3" height="1" fill="#c0c0c0"/><rect x="526" y="663" width="3" height="1" fill="#c0c0c0"/><rect x="532" y="663" width="3" height="1" fill="#c0c0c0"/><rect x="538" y="663" width="3" height="1" fill="#c0c0c0"/><rect x="544" y="663" width="3" height="1" fill="#c0c0c0"/><rect x="550" y="663" width="3" height="1" fill="#c0c0c0"/><rect x="556" y="663" width="3" height="1" fill="#c0c0c0"/><rect x="562" y="663" width="3" height="1" fill="#c0c0c0"/><rect x="568" y="663" width="3" height="1" fill="#c0c0c0"/><rect x="574" y="663" width="3" height="1" fill="#c0c0c0"/><rect x="580" y="663" width="3" height="1" fill="#c0c0c0"/><rect x="586" y="663" width="3" height="1" fill="#c0c0c0"/><rect x="592" y="663" width="3" height="1" fill="#c0c0c0"/><rect x="598" y="663" width="3" height="1" fill="#c0c0c0"/><rect x="604" y="663" width="3" height="1" fill="#c0c0c0"/><rect x="610" y="663" width="3" height="1" fill="#c0c0c0"/><rect x="616" y="663" width="3" height="1" fill="#c0c0c0"/><rect x="622" y="663" width="3" height="1" fill="#c0c0c0"/><rect x="628" y="663" width="3" height="1" fill="#c0c0c0"/><rect x="634" y="663" width="3" height="1" fill="#c0c0c0"/><rect x="640" y="663" width="3" height="1" fill="#c0c0c0"/><rect x="646" y="663" width="3" height="1" fill="#c0c0c0"/><rect x="652" y="663" width="3" height="1" fill="#c0c0c0"/><rect x="658" y="663" width="3" height="1" fill="#c0c0c0"/><rect x="664" y="663" width="3" height="1" fill="#c0c0c0"/><rect x="670" y="663" width="3" height="1" fill="#c0c0c0"/><rect x="676" y="663" width="3" height="1" fill="#c0c0c0"/><rect x="682" y="663" width="3" height="1" fill="#c0c0c0"/><rect x="688" y="663" width="3" height="1" fill="#c0c0c0"/><rect x="694" y="663" width="3" height="1" fill="#c0c0c0"/><rect x="700" y="663" width="3" height="1" fill="#c0c0c0"/><rect x="706" y="663" width="3" height="1" fill="#c0c0c0"/><rect x="712" y="663" width="3" height="1" fill="#c0c0c0"/><rect x="718" y="663" width="3" height="1" fill="#c0c0c0"/><rect x="724" y="663" width="3" height="1" fill="#c0c0c0"/><rect x="730" y="663" width="3" height="1" fill="#c0c0c0"/><rect x="736" y="663" width="3" height="1" fill="#c0c0c0"/><rect x="742" y="663" width="3" height="1" fill="#c0c0c0"/><rect x="748" y="663" width="3" height="1" fill="#c0c0c0"/><rect x="754" y="663" width="3" height="1" fill="#c0c0c0"/><rect x="760" y="663" width="3" height="1" fill="#c0c0c0"/><rect x="766" y="663" width="3" height="1" fill="#c0c0c0"/><rect x="772" y="663" width="3" height="1" fill="#c0c0c0"/><rect x="778" y="663" width="3" height="1" fill="#c0c0c0"/><rect x="784" y="663" width="3" height="1" fill="#c0c0c0"/><rect x="790" y="663" width="3" height="1" fill="#c0c0c0"/><rect x="796" y="663" width="3" height="1" fill="#c0c0c0"/><rect x="802" y="663" width="3" height="1" fill="#c0c0c0"/><rect x="808" y="663" width="3" height="1" fill="#c0c0c0"/><rect x="814" y="663" width="3" height="1" fill="#c0c0c0"/><rect x="820" y="663" width="3" height="1" fill="#c0c0c0"/><rect x="826" y="663" width="3" height="1" fill="#c0c0c0"/><rect x="832" y="663" width="3" height="1" fill="#c0c0c0"/><rect x="838" y="663" width="3" height="1" fill="#c0c0c0"/><rect x="844" y="663" width="3" height="1" fill="#c0c0c0"/><rect x="850" y="663" width="3" height="1" fill="#c0c0c0"/><rect x="856" y="663" width="3" height="1" fill="#c0c0c0"/><rect x="862" y="663" width="3" height="1" fill="#c0c0c0"/><rect x="868" y="663" width="3" height="1" fill="#c0c0c0"/><rect x="874" y="663" width="3" height="1" fill="#c0c0c0"/><rect x="880" y="663" width="3" height="1" fill="#c0c0c0"/><rect x="886" y="663" width="3" height="1" fill="#c0c0c0"/><rect x="892" y="663" width="3" height="1" fill="#c0c0c0"/><rect x="898" y="663" width="3" height="1" fill="#c0c0c0"/><rect x="904" y="663" width="3" height="1" fill="#c0c0c0"/><rect x="910" y="663" width="3" height="1" fill="#c0c0c0"/><rect x="916" y="663" width="3" height="1" fill="#c0c0c0"/><rect x="922" y="663" width="3" height="1" fill="#c0c0c0"/><rect x="928" y="663" width="3" height="1" fill="#c0c0c0"/><rect x="934" y="663" width="3" height="1" fill="#c0c0c0"/><rect x="940" y="663" width="3" height="1" fill="#c0c0c0"/><rect x="946" y="663" width="3" height="1" fill="#c0c0c0"/><rect x="952" y="663" width="3" height="1" fill="#c0c0c0"/><rect x="958" y="663" width="3" height="1" fill="#c0c0c0"/><rect x="964" y="663" width="3" height="1" fill="#c0c0c0"/><rect x="970" y="663" width="3" height="1" fill="#c0c0c0"/><rect x="976" y="663" width="3" height="1" fill="#c0c0c0"/><rect x="982" y="663" width="3" height="1" fill="#c0c0c0"/><rect x="988" y="663" width="3" height="1" fill="#c0c0c0"/><rect x="994" y="663" width="3" height="1" fill="#c0c0c0"/><rect x="1000" y="663" width="3" height="1" fill="#c0c0c0"/><rect x="1006" y="663" width="3" height="1" fill="#c0c0c0"/><rect x="1012" y="663" width="3" height="1" fill="#c0c0c0"/><rect x="1018" y="663" width="3" height="1" fill="#c0c0c0"/><rect x="1024" y="663" width="3" height="1" fill="#c0c0c0"/><rect x="1030" y="663" width="3" height="1" fill="#c0c0c0"/><rect x="1036" y="663" width="3" height="1" fill="#c0c0c0"/><rect x="1042" y="663" width="3" height="1" fill="#c0c0c0"/><rect x="1048" y="663" width="3" height="1" fill="#c0c0c0"/><rect x="1054" y="663" width="3" height="1" fill="#c0c0c0"/><rect x="1060" y="663" width="3" height="1" fill="#c0c0c0"/><rect x="1066" y="663" width="3" height="1" fill="#c0c0c0"/><rect x="1072" y="663" width="3" height="1" fill="#c0c0c0"/><rect x="1078" y="663" width="3" height="1" fill="#c0c0c0"/><rect x="1084" y="663" width="3" height="1" fill="#c0c0c0"/><rect x="1090" y="663" width="3" height="1" fill="#c0c0c0"/><rect x="1096" y="663" width="3" height="1" fill="#c0c0c0"/><rect x="1102" y="663" width="3" height="1" fill="#c0c0c0"/><rect x="1108" y="663" width="3" height="1" fill="#c0c0c0"/><rect x="1114" y="663" width="3" height="1" fill="#c0c0c0"/><rect x="1120" y="663" width="3" height="1" fill="#c0c0c0"/><rect x="1126" y="663" width="3" height="1" fill="#c0c0c0"/><rect x="1132" y="663" width="3" height="1" fill="#c0c0c0"/><rect x="1138" y="663" width="3" height="1" fill="#c0c0c0"/><rect x="1144" y="663" width="3" height="1" fill="#c0c0c0"/><rect x="1150" y="663" width="3" height="1" fill="#c0c0c0"/><rect x="1156" y="663" width="3" height="1" fill="#c0c0c0"/><rect x="1162" y="663" width="3" height="1" fill="#c0c0c0"/><rect x="1168" y="663" width="3" height="1" fill="#c0c0c0"/><rect x="1174" y="663" width="3" height="1" fill="#c0c0c0"/><rect x="1180" y="663" width="3" height="1" fill="#c0c0c0"/><rect x="1186" y="663" width="3" height="1" fill="#c0c0c0"/><rect x="1192" y="663" width="3" height="1" fill="#c0c0c0"/><rect x="1198" y="663" width="3" height="1" fill="#c0c0c0"/><rect x="1204" y="663" width="3" height="1" fill="#c0c0c0"/><rect x="1210" y="663" width="3" height="1" fill="#c0c0c0"/><rect x="1216" y="663" width="3" height="1" fill="#c0c0c0"/><rect x="1222" y="663" width="3" height="1" fill="#c0c0c0"/><rect x="1228" y="663" width="3" height="1" fill="#c0c0c0"/><rect x="1234" y="663" width="3" height="1" fill="#c0c0c0"/><rect x="1240" y="663" width="3" height="1" fill="#c0c0c0"/><rect x="1246" y="663" width="3" height="1" fill="#c0c0c0"/><rect x="1252" y="663" width="3" height="1" fill="#c0c0c0"/><rect x="1258" y="663" width="3" height="1" fill="#c0c0c0"/><rect x="1264" y="663" width="3" height="1" fill="#c0c0c0"/><rect x="1270" y="663" width="3" height="1" fill="#c0c0c0"/><rect x="1276" y="663" width="3" height="1" fill="#c0c0c0"/><rect x="1282" y="663" width="3" height="1" fill="#c0c0c0"/><rect x="1288" y="663" width="3" height="1" fill="#c0c0c0"/><rect x="1294" y="663" width="3" height="1" fill="#c0c0c0"/><rect x="1300" y="663" width="3" height="1" fill="#c0c0c0"/><rect x="1306" y="663" width="3" height="1" fill="#c0c0c0"/><rect x="1312" y="663" width="3" height="1" fill="#c0c0c0"/><rect x="1318" y="663" width="3" height="1" fill="#c0c0c0"/><rect x="1324" y="663" width="3" height="1" fill="#c0c0c0"/><rect x="1330" y="663" width="3" height="1" fill="#c0c0c0"/><rect x="1336" y="663" width="3" height="1" fill="#c0c0c0"/><rect x="1342" y="663" width="3" height="1" fill="#c0c0c0"/><rect x="1348" y="663" width="3" height="1" fill="#c0c0c0"/><rect x="1354" y="663" width="3" height="1" fill="#c0c0c0"/><rect x="1360" y="663" width="3" height="1" fill="#c0c0c0"/><rect x="1366" y="663" width="3" height="1" fill="#c0c0c0"/><rect x="1372" y="663" width="3" height="1" fill="#c0c0c0"/><rect x="1378" y="663" width="3" height="1" fill="#c0c0c0"/><rect x="1384" y="663" width="3" height="1" fill="#c0c0c0"/><rect x="1390" y="663" width="3" height="1" fill="#c0c0c0"/><rect x="1396" y="663" width="3" height="1" fill="#c0c0c0"/><rect x="1402" y="663" width="3" height="1" fill="#c0c0c0"/><rect x="1408" y="663" width="3" height="1" fill="#c0c0c0"/><rect x="1414" y="663" width="3" height="1" fill="#c0c0c0"/><rect x="1420" y="663" width="3" height="1" fill="#c0c0c0"/><rect x="1426" y="663" width="3" height="1" fill="#c0c0c0"/><rect x="1432" y="663" width="3" height="1" fill="#c0c0c0"/><rect x="1438" y="663" width="3" height="1" fill="#c0c0c0"/><rect x="1444" y="663" width="3" height="1" fill="#c0c0c0"/><rect x="1450" y="663" width="3" height="1" fill="#c0c0c0"/><rect x="1456" y="663" width="3" height="1" fill="#c0c0c0"/><rect x="1462" y="663" width="3" height="1" fill="#c0c0c0"/><rect x="1468" y="663" width="3" height="1" fill="#c0c0c0"/><rect x="1474" y="663" width="3" height="1" fill="#c0c0c0"/><rect x="1480" y="663" width="3" height="1" fill="#c0c0c0"/><rect x="1486" y="663" width="3" height="1" fill="#c0c0c0"/><rect x="1492" y="663" width="3" height="1" fill="#c0c0c0"/><rect x="1498" y="663" width="3" height="1" fill="#c0c0c0"/><rect x="1504" y="663" width="3" height="1" fill="#c0c0c0"/><rect x="1510" y="663" width="3" height="1" fill="#c0c0c0"/><rect x="1516" y="663" width="3" height="1" fill="#c0c0c0"/><rect x="1522" y="663" width="3" height="1" fill="#c0c0c0"/><rect x="1528" y="663" width="3" height="1" fill="#c0c0c0"/><rect x="1534" y="663" width="3" height="1" fill="#c0c0c0"/><rect x="1540" y="663" width="3" height="1" fill="#c0c0c0"/><rect x="1546" y="663" width="3" height="1" fill="#c0c0c0"/><rect x="1552" y="663" width="3" height="1" fill="#c0c0c0"/><rect x="1558" y="663" width="3" height="1" fill="#c0c0c0"/><rect x="1564" y="663" width="3" height="1" fill="#c0c0c0"/><rect x="1570" y="663" width="3" height="1" fill="#c0c0c0"/><rect x="1576" y="663" width="3" height="1" fill="#c0c0c0"/><rect x="1582" y="663" width="3" height="1" fill="#c0c0c0"/><rect x="1588" y="663" width="3" height="1" fill="#c0c0c0"/><rect x="1594" y="663" width="3" height="1" fill="#c0c0c0"/><rect x="1600" y="663" width="3" height="1" fill="#c0c0c0"/><rect x="1606" y="663" width="3" height="1" fill="#c0c0c0"/><rect x="1612" y="663" width="3" height="1" fill="#c0c0c0"/><rect x="1618" y="663" width="3" height="1" fill="#c0c0c0"/><rect x="1624" y="663" width="3" height="1" fill="#c0c0c0"/><rect x="1630" y="663" width="3" height="1" fill="#c0c0c0"/><rect x="1636" y="663" width="3" height="1" fill="#c0c0c0"/><rect x="1642" y="663" width="3" height="1" fill="#c0c0c0"/><rect x="1648" y="663" width="3" height="1" fill="#c0c0c0"/><rect x="1654" y="663" width="3" height="1" fill="#c0c0c0"/><rect x="1660" y="663" width="3" height="1" fill="#c0c0c0"/><rect x="1666" y="663" width="3" height="1" fill="#c0c0c0"/></g>
<g shape-rendering="crispEdges"><rect x="4" y="715" width="3" height="1" fill="#c0c0c0"/><rect x="10" y="715" width="3" height="1" fill="#c0c0c0"/><rect x="16" y="715" width="3" height="1" fill="#c0c0c0"/><rect x="22" y="715" width="3" height="1" fill="#c0c0c0"/><rect x="28" y="715" width="3" height="1" fill="#c0c0c0"/><rect x="34" y="715" width="3" height="1" fill="#c0c0c0"/><rect x="40" y="715" width="3" height="1" fill="#c0c0c0"/><rect x="46" y="715" width="3" height="1" fill="#c0c0c0"/><rect x="52" y="715" width="3" height="1" fill="#c0c0c0"/><rect x="58" y="715" width="3" height="1" fill="#c0c0c0"/><rect x="64" y="715" width="3" height="1" fill="#c0c0c0"/><rect x="70" y="715" width="3" height="1" fill="#c0c0c0"/><rect x="76" y="715" width="3" height="1" fill="#c0c0c0"/><rect x="82" y="715" width="3" height="1" fill="#c0c0c0"/><rect x="88" y="715" width="3" height="1" fill="#c0c0c0"/><rect x="94" y="715" width="3" height="1" fill="#c0c0c0"/><rect x="100" y="715" width="3" height="1" fill="#c0c0c0"/><rect x="106" y="715" width="3" height="1" fill="#c0c0c0"/><rect x="112" y="715" width="3" height="1" fill="#c0c0c0"/><rect x="118" y="715" width="3" height="1" fill="#c0c0c0"/><rect x="124" y="715" width="3" height="1" fill="#c0c0c0"/><rect x="130" y="715" width="3" height="1" fill="#c0c0c0"/><rect x="136" y="715" width="3" height="1" fill="#c0c0c0"/><rect x="142" y="715" width="3" height="1" fill="#c0c0c0"/><rect x="148" y="715" width="3" height="1" fill="#c0c0c0"/><rect x="154" y="715" width="3" height="1" fill="#c0c0c0"/><rect x="160" y="715" width="3" height="1" fill="#c0c0c0"/><rect x="166" y="715" width="3" height="1" fill="#c0c0c0"/><rect x="172" y="715" width="3" height="1" fill="#c0c0c0"/><rect x="178" y="715" width="3" height="1" fill="#c0c0c0"/><rect x="184" y="715" width="3" height="1" fill="#c0c0c0"/><rect x="190" y="715" width="3" height="1" fill="#c0c0c0"/><rect x="196" y="715" width="3" height="1" fill="#c0c0c0"/><rect x="202" y="715" width="3" height="1" fill="#c0c0c0"/><rect x="208" y="715" width="3" height="1" fill="#c0c0c0"/><rect x="214" y="715" width="3" height="1" fill="#c0c0c0"/><rect x="220" y="715" width="3" height="1" fill="#c0c0c0"/><rect x="226" y="715" width="3" height="1" fill="#c0c0c0"/><rect x="232" y="715" width="3" height="1" fill="#c0c0c0"/><rect x="238" y="715" width="3" height="1" fill="#c0c0c0"/><rect x="244" y="715" width="3" height="1" fill="#c0c0c0"/><rect x="250" y="715" width="3" height="1" fill="#c0c0c0"/><rect x="256" y="715" width="3" height="1" fill="#c0c0c0"/><rect x="262" y="715" width="3" height="1" fill="#c0c0c0"/><rect x="268" y="715" width="3" height="1" fill="#c0c0c0"/><rect x="274" y="715" width="3" height="1" fill="#c0c0c0"/><rect x="280" y="715" width="3" height="1" fill="#c0c0c0"/><rect x="286" y="715" width="3" height="1" fill="#c0c0c0"/><rect x="292" y="715" width="3" height="1" fill="#c0c0c0"/><rect x="298" y="715" width="3" height="1" fill="#c0c0c0"/><rect x="304" y="715" width="3" height="1" fill="#c0c0c0"/><rect x="310" y="715" width="3" height="1" fill="#c0c0c0"/><rect x="316" y="715" width="3" height="1" fill="#c0c0c0"/><rect x="322" y="715" width="3" height="1" fill="#c0c0c0"/><rect x="328" y="715" width="3" height="1" fill="#c0c0c0"/><rect x="334" y="715" width="3" height="1" fill="#c0c0c0"/><rect x="340" y="715" width="3" height="1" fill="#c0c0c0"/><rect x="346" y="715" width="3" height="1" fill="#c0c0c0"/><rect x="352" y="715" width="3" height="1" fill="#c0c0c0"/><rect x="358" y="715" width="3" height="1" fill="#c0c0c0"/><rect x="364" y="715" width="3" height="1" fill="#c0c0c0"/><rect x="370" y="715" width="3" height="1" fill="#c0c0c0"/><rect x="376" y="715" width="3" height="1" fill="#c0c0c0"/><rect x="382" y="715" width="3" height="1" fill="#c0c0c0"/><rect x="388" y="715" width="3" height="1" fill="#c0c0c0"/><rect x="394" y="715" width="3" height="1" fill="#c0c0c0"/><rect x="400" y="715" width="3" height="1" fill="#c0c0c0"/><rect x="406" y="715" width="3" height="1" fill="#c0c0c0"/><rect x="412" y="715" width="3" height="1" fill="#c0c0c0"/><rect x="418" y="715" width="3" height="1" fill="#c0c0c0"/><rect x="424" y="715" width="3" height="1" fill="#c0c0c0"/><rect x="430" y="715" width="3" height="1" fill="#c0c0c0"/><rect x="436" y="715" width="3" height="1" fill="#c0c0c0"/><rect x="442" y="715" width="3" height="1" fill="#c0c0c0"/><rect x="448" y="715" width="3" height="1" fill="#c0c0c0"/><rect x="454" y="715" width="3" height="1" fill="#c0c0c0"/><rect x="460" y="715" width="3" height="1" fill="#c0c0c0"/><rect x="466" y="715" width="3" height="1" fill="#c0c0c0"/><rect x="472" y="715" width="3" height="1" fill="#c0c0c0"/><rect x="478" y="715" width="3" height="1" fill="#c0c0c0"/><rect x="484" y="715" width="3" height="1" fill="#c0c0c0"/><rect x="490" y="715" width="3" height="1" fill="#c0c0c0"/><rect x="496" y="715" width="3" height="1" fill="#c0c0c0"/><rect x="502" y="715" width="3" height="1" fill="#c0c0c0"/><rect x="508" y="715" width="3" height="1" fill="#c0c0c0"/><rect x="514" y="715" width="3" height="1" fill="#c0c0c0"/><rect x="520" y="715" width="3" height="1" fill="#c0c0c0"/><rect x="526" y="715" width="3" height="1" fill="#c0c0c0"/><rect x="532" y="715" width="3" height="1" fill="#c0c0c0"/><rect x="538" y="715" width="3" height="1" fill="#c0c0c0"/><rect x="544" y="715" width="3" height="1" fill="#c0c0c0"/><rect x="550" y="715" width="3" height="1" fill="#c0c0c0"/><rect x="556" y="715" width="3" height="1" fill="#c0c0c0"/><rect x="562" y="715" width="3" height="1" fill="#c0c0c0"/><rect x="568" y="715" width="3" height="1" fill="#c0c0c0"/><rect x="574" y="715" width="3" height="1" fill="#c0c0c0"/><rect x="580" y="715" width="3" height="1" fill="#c0c0c0"/><rect x="586" y="715" width="3" height="1" fill="#c0c0c0"/><rect x="592" y="715" width="3" height="1" fill="#c0c0c0"/><rect x="598" y="715" width="3" height="1" fill="#c0c0c0"/><rect x="604" y="715" width="3" height="1" fill="#c0c0c0"/><rect x="610" y="715" width="3" height="1" fill="#c0c0c0"/><rect x="616" y="715" width="3" height="1" fill="#c0c0c0"/><rect x="622" y="715" width="3" height="1" fill="#c0c0c0"/><rect x="628" y="715" width="3" height="1" fill="#c0c0c0"/><rect x="634" y="715" width="3" height="1" fill="#c0c0c0"/><rect x="640" y="715" width="3" height="1" fill="#c0c0c0"/><rect x="646" y="715" width="3" height="1" fill="#c0c0c0"/><rect x="652" y="715" width="3" height="1" fill="#c0c0c0"/><rect x="658" y="715" width="3" height="1" fill="#c0c0c0"/><rect x="664" y="715" width="3" height="1" fill="#c0c0c0"/><rect x="670" y="715" width="3" height="1" fill="#c0c0c0"/><rect x="676" y="715" width="3" height="1" fill="#c0c0c0"/><rect x="682" y="715" width="3" height="1" fill="#c0c0c0"/><rect x="688" y="715" width="3" height="1" fill="#c0c0c0"/><rect x="694" y="715" width="3" height="1" fill="#c0c0c0"/><rect x="700" y="715" width="3" height="1" fill="#c0c0c0"/><rect x="706" y="715" width="3" height="1" fill="#c0c0c0"/><rect x="712" y="715" width="3" height="1" fill="#c0c0c0"/><rect x="718" y="715" width="3" height="1" fill="#c0c0c0"/><rect x="724" y="715" width="3" height="1" fill="#c0c0c0"/><rect x="730" y="715" width="3" height="1" fill="#c0c0c0"/><rect x="736" y="715" width="3" height="1" fill="#c0c0c0"/><rect x="742" y="715" width="3" height="1" fill="#c0c0c0"/><rect x="748" y="715" width="3" height="1" fill="#c0c0c0"/><rect x="754" y="715" width="3" height="1" fill="#c0c0c0"/><rect x="760" y="715" width="3" height="1" fill="#c0c0c0"/><rect x="766" y="715" width="3" height="1" fill="#c0c0c0"/><rect x="772" y="715" width="3" height="1" fill="#c0c0c0"/><rect x="778" y="715" width="3" height="1" fill="#c0c0c0"/><rect x="784" y="715" width="3" height="1" fill="#c0c0c0"/><rect x="790" y="715" width="3" height="1" fill="#c0c0c0"/><rect x="796" y="715" width="3" height="1" fill="#c0c0c0"/><rect x="802" y="715" width="3" height="1" fill="#c0c0c0"/><rect x="808" y="715" width="3" height="1" fill="#c0c0c0"/><rect x="814" y="715" width="3" height="1" fill="#c0c0c0"/><rect x="820" y="715" width="3" height="1" fill="#c0c0c0"/><rect x="826" y="715" width="3" height="1" fill="#c0c0c0"/><rect x="832" y="715" width="3" height="1" fill="#c0c0c0"/><rect x="838" y="715" width="3" height="1" fill="#c0c0c0"/><rect x="844" y="715" width="3" height="1" fill="#c0c0c0"/><rect x="850" y="715" width="3" height="1" fill="#c0c0c0"/><rect x="856" y="715" width="3" height="1" fill="#c0c0c0"/><rect x="862" y="715" width="3" height="1" fill="#c0c0c0"/><rect x="868" y="715" width="3" height="1" fill="#c0c0c0"/><rect x="874" y="715" width="3" height="1" fill="#c0c0c0"/><rect x="880" y="715" width="3" height="1" fill="#c0c0c0"/><rect x="886" y="715" width="3" height="1" fill="#c0c0c0"/><rect x="892" y="715" width="3" height="1" fill="#c0c0c0"/><rect x="898" y="715" width="3" height="1" fill="#c0c0c0"/><rect x="904" y="715" width="3" height="1" fill="#c0c0c0"/><rect x="910" y="715" width="3" height="1" fill="#c0c0c0"/><rect x="916" y="715" width="3" height="1" fill="#c0c0c0"/><rect x="922" y="715" width="3" height="1" fill="#c0c0c0"/><rect x="928" y="715" width="3" height="1" fill="#c0c0c0"/><rect x="934" y="715" width="3" height="1" fill="#c0c0c0"/><rect x="940" y="715" width="3" height="1" fill="#c0c0c0"/><rect x="946" y="715" width="3" height="1" fill="#c0c0c0"/><rect x="952" y="715" width="3" height="1" fill="#c0c0c0"/><rect x="958" y="715" width="3" height="1" fill="#c0c0c0"/><rect x="964" y="715" width="3" height="1" fill="#c0c0c0"/><rect x="970" y="715" width="3" height="1" fill="#c0c0c0"/><rect x="976" y="715" width="3" height="1" fill="#c0c0c0"/><rect x="982" y="715" width="3" height="1" fill="#c0c0c0"/><rect x="988" y="715" width="3" height="1" fill="#c0c0c0"/><rect x="994" y="715" width="3" height="1" fill="#c0c0c0"/><rect x="1000" y="715" width="3" height="1" fill="#c0c0c0"/><rect x="1006" y="715" width="3" height="1" fill="#c0c0c0"/><rect x="1012" y="715" width="3" height="1" fill="#c0c0c0"/><rect x="1018" y="715" width="3" height="1" fill="#c0c0c0"/><rect x="1024" y="715" width="3" height="1" fill="#c0c0c0"/><rect x="1030" y="715" width="3" height="1" fill="#c0c0c0"/><rect x="1036" y="715" width="3" height="1" fill="#c0c0c0"/><rect x="1042" y="715" width="3" height="1" fill="#c0c0c0"/><rect x="1048" y="715" width="3" height="1" fill="#c0c0c0"/><rect x="1054" y="715" width="3" height="1" fill="#c0c0c0"/><rect x="1060" y="715" width="3" height="1" fill="#c0c0c0"/><rect x="1066" y="715" width="3" height="1" fill="#c0c0c0"/><rect x="1072" y="715" width="3" height="1" fill="#c0c0c0"/><rect x="1078" y="715" width="3" height="1" fill="#c0c0c0"/><rect x="1084" y="715" width="3" height="1" fill="#c0c0c0"/><rect x="1090" y="715" width="3" height="1" fill="#c0c0c0"/><rect x="1096" y="715" width="3" height="1" fill="#c0c0c0"/><rect x="1102" y="715" width="3" height="1" fill="#c0c0c0"/><rect x="1108" y="715" width="3" height="1" fill="#c0c0c0"/><rect x="1114" y="715" width="3" height="1" fill="#c0c0c0"/><rect x="1120" y="715" width="3" height="1" fill="#c0c0c0"/><rect x="1126" y="715" width="3" height="1" fill="#c0c0c0"/><rect x="1132" y="715" width="3" height="1" fill="#c0c0c0"/><rect x="1138" y="715" width="3" height="1" fill="#c0c0c0"/><rect x="1144" y="715" width="3" height="1" fill="#c0c0c0"/><rect x="1150" y="715" width="3" height="1" fill="#c0c0c0"/><rect x="1156" y="715" width="3" height="1" fill="#c0c0c0"/><rect x="1162" y="715" width="3" height="1" fill="#c0c0c0"/><rect x="1168" y="715" width="3" height="1" fill="#c0c0c0"/><rect x="1174" y="715" width="3" height="1" fill="#c0c0c0"/><rect x="1180" y="715" width="3" height="1" fill="#c0c0c0"/><rect x="1186" y="715" width="3" height="1" fill="#c0c0c0"/><rect x="1192" y="715" width="3" height="1" fill="#c0c0c0"/><rect x="1198" y="715" width="3" height="1" fill="#c0c0c0"/><rect x="1204" y="715" width="3" height="1" fill="#c0c0c0"/><rect x="1210" y="715" width="3" height="1" fill="#c0c0c0"/><rect x="1216" y="715" width="3" height="1" fill="#c0c0c0"/><rect x="1222" y="715" width="3" height="1" fill="#c0c0c0"/><rect x="1228" y="715" width="3" height="1" fill="#c0c0c0"/><rect x="1234" y="715" width="3" height="1" fill="#c0c0c0"/><rect x="1240" y="715" width="3" height="1" fill="#c0c0c0"/><rect x="1246" y="715" width="3" height="1" fill="#c0c0c0"/><rect x="1252" y="715" width="3" height="1" fill="#c0c0c0"/><rect x="1258" y="715" width="3" height="1" fill="#c0c0c0"/><rect x="1264" y="715" width="3" height="1" fill="#c0c0c0"/><rect x="1270" y="715" width="3" height="1" fill="#c0c0c0"/><rect x="1276" y="715" width="3" height="1" fill="#c0c0c0"/><rect x="1282" y="715" width="3" height="1" fill="#c0c0c0"/><rect x="1288" y="715" width="3" height="1" fill="#c0c0c0"/><rect x="1294" y="715" width="3" height="1" fill="#c0c0c0"/><rect x="1300" y="715" width="3" height="1" fill="#c0c0c0"/><rect x="1306" y="715" width="3" height="1" fill="#c0c0c0"/><rect x="1312" y="715" width="3" height="1" fill="#c0c0c0"/><rect x="1318" y="715" width="3" height="1" fill="#c0c0c0"/><rect x="1324" y="715" width="3" height="1" fill="#c0c0c0"/><rect x="1330" y="715" width="3" height="1" fill="#c0c0c0"/><rect x="1336" y="715" width="3" height="1" fill="#c0c0c0"/><rect x="1342" y="715" width="3" height="1" fill="#c0c0c0"/><rect x="1348" y="715" width="3" height="1" fill="#c0c0c0"/><rect x="1354" y="715" width="3" height="1" fill="#c0c0c0"/><rect x="1360" y="715" width="3" height="1" fill="#c0c0c0"/><rect x="1366" y="715" width="3" height="1" fill="#c0c0c0"/><rect x="1372" y="715" width="3" height="1" fill="#c0c0c0"/><rect x="1378" y="715" width="3" height="1" fill="#c0c0c0"/><rect x="1384" y="715" width="3" height="1" fill="#c0c0c0"/><rect x="1390" y="715" width="3" height="1" fill="#c0c0c0"/><rect x="1396" y="715" width="3" height="1" fill="#c0c0c0"/><rect x="1402" y="715" width="3" height="1" fill="#c0c0c0"/><rect x="1408" y="715" width="3" height="1" fill="#c0c0c0"/><rect x="1414" y="715" width="3" height="1" fill="#c0c0c0"/><rect x="1420" y="715" width="3" height="1" fill="#c0c0c0"/><rect x="1426" y="715" width="3" height="1" fill="#c0c0c0"/><rect x="1432" y="715" width="3" height="1" fill="#c0c0c0"/><rect x="1438" y="715" width="3" height="1" fill="#c0c0c0"/><rect x="1444" y="715" width="3" height="1" fill="#c0c0c0"/><rect x="1450" y="715" width="3" height="1" fill="#c0c0c0"/><rect x="1456" y="715" width="3" height="1" fill="#c0c0c0"/><rect x="1462" y="715" width="3" height="1" fill="#c0c0c0"/><rect x="1468" y="715" width="3" height="1" fill="#c0c0c0"/><rect x="1474" y="715" width="3" height="1" fill="#c0c0c0"/><rect x="1480" y="715" width="3" height="1" fill="#c0c0c0"/><rect x="1486" y="715" width="3" height="1" fill="#c0c0c0"/><rect x="1492" y="715" width="3" height="1" fill="#c0c0c0"/><rect x="1498" y="715" width="3" height="1" fill="#c0c0c0"/><rect x="1504" y="715" width="3" height="1" fill="#c0c0c0"/><rect x="1510" y="715" width="3" height="1" fill="#c0c0c0"/><rect x="1516" y="715" width="3" height="1" fill="#c0c0c0"/><rect x="1522" y="715" width="3" height="1" fill="#c0c0c0"/><rect x="1528" y="715" width="3" height="1" fill="#c0c0c0"/><rect x="1534" y="715" width="3" height="1" fill="#c0c0c0"/><rect x="1540" y="715" width="3" height="1" fill="#c0c0c0"/><rect x="1546" y="715" width="3" height="1" fill="#c0c0c0"/><rect x="1552" y="715" width="3" height="1" fill="#c0c0c0"/><rect x="1558" y="715" width="3" height="1" fill="#c0c0c0"/><rect x="1564" y="715" width="3" height="1" fill="#c0c0c0"/><rect x="1570" y="715" width="3" height="1" fill="#c0c0c0"/><rect x="1576" y="715" width="3" height="1" fill="#c0c0c0"/><rect x="1582" y="715" width="3" height="1" fill="#c0c0c0"/><rect x="1588" y="715" width="3" height="1" fill="#c0c0c0"/><rect x="1594" y="715" width="3" height="1" fill="#c0c0c0"/><rect x="1600" y="715" width="3" height="1" fill="#c0c0c0"/><rect x="1606" y="715" width="3" height="1" fill="#c0c0c0"/><rect x="1612" y="715" width="3" height="1" fill="#c0c0c0"/><rect x="1618" y="715" width="3" height="1" fill="#c0c0c0"/><rect x="1624" y="715" width="3" height="1" fill="#c0c0c0"/><rect x="1630" y="715" width="3" height="1" fill="#c0c0c0"/><rect x="1636" y="715" width="3" height="1" fill="#c0c0c0"/><rect x="1642" y="715" width="3" height="1" fill="#c0c0c0"/><rect x="1648" y="715" width="3" height="1" fill="#c0c0c0"/><rect x="1654" y="715" width="3" height="1" fill="#c0c0c0"/><rect x="1660" y="715" width="3" height="1" fill="#c0c0c0"/><rect x="1666" y="715" width="3" height="1" fill="#c0c0c0"/></g>
<g shape-rendering="crispEdges">
<polyline points="3.5,694.9 11.5,705.4 19.5,705.4 27.5,706.6 35.5,704.2 43.5,700.5 51.5,707.4 59.5,701.7 67.5,700.0 75.5,696.8 83.5,694.9 91.5,693.9 99.5,682.1 107.5,670.3 115.5,673.5 123.5,673.5 131.5,675.2 139.5,676.5 147.5,668.1 155.5,670.3 163.5,672.3 171.5,674.3 179.5,677.7 187.5,675.2 195.5,673.5 203.5,662.0 211.5,664.4 219.5,663.7 227.5,667.4 235.5,667.4 243.5,667.4 251.5,679.7 259.5,673.5 267.5,672.3 275.5,675.5 283.5,674.3 291.5,676.5 299.5,681.4 307.5,674.0 315.5,672.3 323.5,679.2 331.5,683.3 339.5,683.3 347.5,682.1 355.5,695.1 363.5,687.0 371.5,685.3 379.5,683.3 387.5,682.8 395.5,679.2 403.5,675.2 411.5,677.7 419.5,674.3 427.5,671.6 435.5,668.6 443.5,665.4 451.5,663.2 459.5,669.4 467.5,668.1 475.5,670.3 483.5,668.1 491.5,664.2 499.5,660.5 507.5,658.3 515.5,664.9 523.5,669.1 531.5,667.4 539.5,672.3 547.5,664.9 555.5,657.6 563.5,656.3 571.5,669.1 579.5,671.1 587.5,671.6 595.5,667.4 603.5,663.2 611.5,663.2 619.5,664.2 627.5,664.9 635.5,669.1 643.5,665.4 651.5,658.3 659.5,663.0 667.5,661.3 675.5,661.3 683.5,666.2 691.5,674.3 699.5,685.3 707.5,685.3 715.5,684.6 723.5,682.1 731.5,689.0 739.5,689.0 747.5,678.4 755.5,687.5 763.5,676.5 771.5,699.3 779.5,699.3 787.5,693.6 795.5,685.3 803.5,682.8 811.5,679.2 819.5,683.3 827.5,683.3 835.5,672.3 843.5,675.2 851.5,673.5 859.5,672.3 867.5,669.1 875.5,677.7 883.5,674.3 891.5,676.5 899.5,676.5 907.5,674.3 915.5,671.6 923.5,677.2 931.5,668.6 939.5,686.3 947.5,688.2 955.5,687.5 963.5,687.5 971.5,689.0 979.5,702.5 987.5,688.2 995.5,699.3 1003.5,695.6 1011.5,688.2 1019.5,696.8 1027.5,700.5 1035.5,693.1 1043.5,691.4 1051.5,665.4 1059.5,664.4 1067.5,661.3 1075.5,674.0 1083.5,670.3 1091.5,669.1 1099.5,662.5 1107.5,656.3 1115.5,663.7 1123.5,672.3 1131.5,679.7 1139.5,684.6 1147.5,683.3 1155.5,688.2 1163.5,682.6 1171.5,688.2 1179.5,690.2 1187.5,687.8 1195.5,684.6 1203.5,677.7 1211.5,685.3 1219.5,691.9 1227.5,708.4 1235.5,703.7 1243.5,707.2 1251.5,704.9 1259.5,704.9 1267.5,707.4 1275.5,709.4 1283.5,708.2 1291.5,709.2 1299.5,710.4 1307.5,708.2 1315.5,704.9 1323.5,706.1 1331.5,709.4 1339.5,708.2 1347.5,710.4 1355.5,708.2 1363.5,708.2 1371.5,709.4 1379.5,715.4 1387.5,717.5 1395.5,715.4 1403.5,714.4 1411.5,716.7 1419.5,701.9 1427.5,696.1 1435.5,699.9 1443.5,704.1 1451.5,704.9 1459.5,707.4 1467.5,703.1 1475.5,708.2 1483.5,703.6 1491.5,701.9 1499.5,697.4 1507.5,693.1 1515.5,702.4 1523.5,687.3 1531.5,691.1 1539.5,691.1 1547.5,692.3 1555.5,686.6 1563.5,687.8 1571.5,691.1 1579.5,685.3 1587.5,682.8 1595.5,673.5 1603.5,676.0 1611.5,678.0 1619.5,681.0 1627.5,685.3 1635.5,685.3 1643.5,684.0 1651.5,684.0" fill="none" stroke="#1e90ff" stroke-width="1" />
</g>
<text x="7.4" y="636" font-size="9.8" fill="#000" textLength="67.4" lengthAdjust="spacingAndGlyphs"  stroke="#000" stroke-width="0.18">RSI(14) 53.5326</text>
<rect x="2" y="35" width="1669" height="1" fill="#000"/>
<rect x="2" y="476" width="1669" height="1" fill="#000"/>
<rect x="2" y="35" width="1" height="442" fill="#000"/>
<rect x="1670" y="35" width="1" height="442" fill="#000"/>
<rect x="2" y="478" width="1669" height="1" fill="#000"/>
<rect x="2" y="621" width="1669" height="1" fill="#000"/>
<rect x="2" y="478" width="1" height="144" fill="#000"/>
<rect x="1670" y="478" width="1" height="144" fill="#000"/>
<rect x="2" y="623" width="1669" height="1" fill="#000"/>
<rect x="2" y="754" width="1669" height="1" fill="#000"/>
<rect x="2" y="623" width="1" height="132" fill="#000"/>
<rect x="1670" y="623" width="1" height="132" fill="#000"/>
<rect x="1671" y="44" width="3" height="1" fill="#000"/>
<text x="1676" y="47.7" font-size="10.0" fill="#000" textLength="27.5" lengthAdjust="spacingAndGlyphs"  stroke="#000" stroke-width="0.18">71.600</text>
<rect x="1671" y="77" width="3" height="1" fill="#000"/>
<text x="1676" y="80.7" font-size="10.0" fill="#000" textLength="27.5" lengthAdjust="spacingAndGlyphs"  stroke="#000" stroke-width="0.18">70.725</text>
<rect x="1671" y="110" width="3" height="1" fill="#000"/>
<text x="1676" y="113.7" font-size="10.0" fill="#000" textLength="27.5" lengthAdjust="spacingAndGlyphs"  stroke="#000" stroke-width="0.18">69.825</text>
<rect x="1671" y="143" width="3" height="1" fill="#000"/>
<text x="1676" y="146.7" font-size="10.0" fill="#000" textLength="27.5" lengthAdjust="spacingAndGlyphs"  stroke="#000" stroke-width="0.18">68.950</text>
<rect x="1671" y="176" width="3" height="1" fill="#000"/>
<text x="1676" y="179.7" font-size="10.0" fill="#000" textLength="27.5" lengthAdjust="spacingAndGlyphs"  stroke="#000" stroke-width="0.18">68.050</text>
<rect x="1671" y="208" width="3" height="1" fill="#000"/>
<text x="1676" y="211.7" font-size="10.0" fill="#000" textLength="27.5" lengthAdjust="spacingAndGlyphs"  stroke="#000" stroke-width="0.18">67.175</text>
<rect x="1671" y="242" width="3" height="1" fill="#000"/>
<text x="1676" y="245.7" font-size="10.0" fill="#000" textLength="27.5" lengthAdjust="spacingAndGlyphs"  stroke="#000" stroke-width="0.18">66.275</text>
<rect x="1671" y="274" width="3" height="1" fill="#000"/>
<text x="1676" y="277.7" font-size="10.0" fill="#000" textLength="27.5" lengthAdjust="spacingAndGlyphs"  stroke="#000" stroke-width="0.18">65.400</text>
<rect x="1671" y="308" width="3" height="1" fill="#000"/>
<text x="1676" y="311.7" font-size="10.0" fill="#000" textLength="27.5" lengthAdjust="spacingAndGlyphs"  stroke="#000" stroke-width="0.18">64.500</text>
<rect x="1671" y="341" width="3" height="1" fill="#000"/>
<text x="1676" y="344.7" font-size="10.0" fill="#000" textLength="27.5" lengthAdjust="spacingAndGlyphs"  stroke="#000" stroke-width="0.18">63.625</text>
<rect x="1671" y="374" width="3" height="1" fill="#000"/>
<text x="1676" y="377.7" font-size="10.0" fill="#000" textLength="27.5" lengthAdjust="spacingAndGlyphs"  stroke="#000" stroke-width="0.18">62.725</text>
<rect x="1671" y="407" width="3" height="1" fill="#000"/>
<text x="1676" y="410.7" font-size="10.0" fill="#000" textLength="27.5" lengthAdjust="spacingAndGlyphs"  stroke="#000" stroke-width="0.18">61.850</text>
<rect x="1671" y="440" width="3" height="1" fill="#000"/>
<text x="1676" y="443.7" font-size="10.0" fill="#000" textLength="27.5" lengthAdjust="spacingAndGlyphs"  stroke="#000" stroke-width="0.18">60.950</text>
<rect x="1672" y="209" width="36" height="11" fill="#ff0000"/>
<text x="1676" y="217.9" font-size="10.0" fill="#fff" textLength="27.5" lengthAdjust="spacingAndGlyphs"  stroke="#fff" stroke-width="0.18">67.000</text>
<rect x="1672" y="278" width="36" height="11" fill="#000000"/>
<text x="1676" y="286.9" font-size="10.0" fill="#fff" textLength="27.5" lengthAdjust="spacingAndGlyphs"  stroke="#fff" stroke-width="0.18">65.190</text>
<rect x="1672" y="321" width="36" height="11" fill="#00ff7f"/>
<text x="1676" y="329.9" font-size="10.0" fill="#fff" textLength="27.5" lengthAdjust="spacingAndGlyphs"  stroke="#fff" stroke-width="0.18">64.000</text>
<rect x="1672" y="395" width="36" height="11" fill="#4169e1"/>
<text x="1676" y="403.9" font-size="10.0" fill="#fff" textLength="27.5" lengthAdjust="spacingAndGlyphs"  stroke="#fff" stroke-width="0.18">62.000</text>
<rect x="1672" y="469" width="36" height="11" fill="#4169e1"/>
<text x="1676" y="477.9" font-size="10.0" fill="#fff" textLength="27.5" lengthAdjust="spacingAndGlyphs"  stroke="#fff" stroke-width="0.18">60.000</text>
<text x="1675" y="488.8" font-size="9.8" fill="#000" textLength="27.3" lengthAdjust="spacingAndGlyphs"  stroke="#000" stroke-width="0.18">0.9452</text>
<rect x="1671" y="555" width="3" height="1" fill="#000"/>
<text x="1675" y="559" font-size="9.8" fill="#000" textLength="16.5" lengthAdjust="spacingAndGlyphs"  stroke="#000" stroke-width="0.18">0.00</text>
<text x="1674.5" y="616.9" font-size="9.8" fill="#000" textLength="31" lengthAdjust="spacingAndGlyphs"  stroke="#000" stroke-width="0.18">-0.8218</text>
<text x="1675" y="633.5" font-size="9.8" fill="#000" textLength="14.5" lengthAdjust="spacingAndGlyphs"  stroke="#000" stroke-width="0.18">100</text>
<rect x="1671" y="663" width="3" height="1" fill="#000"/>
<text x="1675" y="667" font-size="9.8" fill="#000" textLength="9.5" lengthAdjust="spacingAndGlyphs"  stroke="#000" stroke-width="0.18">70</text>
<rect x="1671" y="715" width="3" height="1" fill="#000"/>
<text x="1675" y="719" font-size="9.8" fill="#000" textLength="9.5" lengthAdjust="spacingAndGlyphs"  stroke="#000" stroke-width="0.18">30</text>
<text x="1675" y="751" font-size="9.8" fill="#000" textLength="5" lengthAdjust="spacingAndGlyphs"  stroke="#000" stroke-width="0.18">0</text>
<rect x="3" y="755" width="1" height="3" fill="#000"/>
<text x="2" y="766.5" font-size="10.0" fill="#000" textLength="48.1" lengthAdjust="spacingAndGlyphs"  stroke="#000" stroke-width="0.18">2 Dec 2019</text>
<rect x="67" y="755" width="1" height="3" fill="#000"/>
<text x="66" y="766.5" font-size="10.0" fill="#000" textLength="50.7" lengthAdjust="spacingAndGlyphs"  stroke="#000" stroke-width="0.18">3 Dec 17:00</text>
<rect x="131" y="755" width="1" height="3" fill="#000"/>
<text x="130" y="766.5" font-size="10.0" fill="#000" textLength="50.7" lengthAdjust="spacingAndGlyphs"  stroke="#000" stroke-width="0.18">5 Dec 01:00</text>
<rect x="195" y="755" width="1" height="3" fill="#000"/>
<text x="194" y="766.5" font-size="10.0" fill="#000" textLength="50.7" lengthAdjust="spacingAndGlyphs"  stroke="#000" stroke-width="0.18">6 Dec 09:00</text>
<rect x="259" y="755" width="1" height="3" fill="#000"/>
<text x="258" y="766.5" font-size="10.0" fill="#000" textLength="50.7" lengthAdjust="spacingAndGlyphs"  stroke="#000" stroke-width="0.18">9 Dec 12:00</text>
<rect x="323" y="755" width="1" height="3" fill="#000"/>
<text x="322" y="766.5" font-size="10.0" fill="#000" textLength="55.7" lengthAdjust="spacingAndGlyphs"  stroke="#000" stroke-width="0.18">10 Dec 21:00</text>
<rect x="387" y="755" width="1" height="3" fill="#000"/>
<text x="386" y="766.5" font-size="10.0" fill="#000" textLength="55.7" lengthAdjust="spacingAndGlyphs"  stroke="#000" stroke-width="0.18">12 Dec 05:00</text>
<rect x="451" y="755" width="1" height="3" fill="#000"/>
<text x="450" y="766.5" font-size="10.0" fill="#000" textLength="55.7" lengthAdjust="spacingAndGlyphs"  stroke="#000" stroke-width="0.18">13 Dec 13:00</text>
<rect x="515" y="755" width="1" height="3" fill="#000"/>
<text x="514" y="766.5" font-size="10.0" fill="#000" textLength="55.7" lengthAdjust="spacingAndGlyphs"  stroke="#000" stroke-width="0.18">16 Dec 16:00</text>
<rect x="579" y="755" width="1" height="3" fill="#000"/>
<text x="578" y="766.5" font-size="10.0" fill="#000" textLength="55.7" lengthAdjust="spacingAndGlyphs"  stroke="#000" stroke-width="0.18">18 Dec 01:00</text>
<rect x="643" y="755" width="1" height="3" fill="#000"/>
<text x="642" y="766.5" font-size="10.0" fill="#000" textLength="55.7" lengthAdjust="spacingAndGlyphs"  stroke="#000" stroke-width="0.18">19 Dec 09:00</text>
<rect x="707" y="755" width="1" height="3" fill="#000"/>
<text x="706" y="766.5" font-size="10.0" fill="#000" textLength="55.7" lengthAdjust="spacingAndGlyphs"  stroke="#000" stroke-width="0.18">20 Dec 17:00</text>
<rect x="771" y="755" width="1" height="3" fill="#000"/>
<text x="770" y="766.5" font-size="10.0" fill="#000" textLength="55.7" lengthAdjust="spacingAndGlyphs"  stroke="#000" stroke-width="0.18">24 Dec 01:00</text>
<rect x="835" y="755" width="1" height="3" fill="#000"/>
<text x="834" y="766.5" font-size="10.0" fill="#000" textLength="55.7" lengthAdjust="spacingAndGlyphs"  stroke="#000" stroke-width="0.18">26 Dec 13:00</text>
<rect x="899" y="755" width="1" height="3" fill="#000"/>
<text x="898" y="766.5" font-size="10.0" fill="#000" textLength="55.7" lengthAdjust="spacingAndGlyphs"  stroke="#000" stroke-width="0.18">27 Dec 21:00</text>
<rect x="963" y="755" width="1" height="3" fill="#000"/>
<text x="962" y="766.5" font-size="10.0" fill="#000" textLength="55.7" lengthAdjust="spacingAndGlyphs"  stroke="#000" stroke-width="0.18">31 Dec 01:00</text>
<rect x="1027" y="755" width="1" height="3" fill="#000"/>
<text x="1026" y="766.5" font-size="10.0" fill="#000" textLength="48.4" lengthAdjust="spacingAndGlyphs"  stroke="#000" stroke-width="0.18">2 Jan 13:00</text>
<rect x="1091" y="755" width="1" height="3" fill="#000"/>
<text x="1090" y="766.5" font-size="10.0" fill="#000" textLength="48.4" lengthAdjust="spacingAndGlyphs"  stroke="#000" stroke-width="0.18">3 Jan 21:00</text>
<rect x="1155" y="755" width="1" height="3" fill="#000"/>
<text x="1154" y="766.5" font-size="10.0" fill="#000" textLength="48.4" lengthAdjust="spacingAndGlyphs"  stroke="#000" stroke-width="0.18">7 Jan 01:00</text>
<rect x="1219" y="755" width="1" height="3" fill="#000"/>
<text x="1218" y="766.5" font-size="10.0" fill="#000" textLength="48.4" lengthAdjust="spacingAndGlyphs"  stroke="#000" stroke-width="0.18">8 Jan 09:00</text>
<rect x="1283" y="755" width="1" height="3" fill="#000"/>
<text x="1282" y="766.5" font-size="10.0" fill="#000" textLength="48.4" lengthAdjust="spacingAndGlyphs"  stroke="#000" stroke-width="0.18">9 Jan 17:00</text>
<rect x="1347" y="755" width="1" height="3" fill="#000"/>
<text x="1346" y="766.5" font-size="10.0" fill="#000" textLength="53.4" lengthAdjust="spacingAndGlyphs"  stroke="#000" stroke-width="0.18">12 Jan 23:00</text>
<rect x="1411" y="755" width="1" height="3" fill="#000"/>
<text x="1410" y="766.5" font-size="10.0" fill="#000" textLength="53.4" lengthAdjust="spacingAndGlyphs"  stroke="#000" stroke-width="0.18">14 Jan 05:00</text>
<rect x="1475" y="755" width="1" height="3" fill="#000"/>
<text x="1474" y="766.5" font-size="10.0" fill="#000" textLength="53.4" lengthAdjust="spacingAndGlyphs"  stroke="#000" stroke-width="0.18">15 Jan 13:00</text>
<rect x="1539" y="755" width="1" height="3" fill="#000"/>
<text x="1538" y="766.5" font-size="10.0" fill="#000" textLength="53.4" lengthAdjust="spacingAndGlyphs"  stroke="#000" stroke-width="0.18">16 Jan 21:00</text>
<rect x="1603" y="755" width="1" height="3" fill="#000"/>
<text x="1602" y="766.5" font-size="10.0" fill="#000" textLength="53.4" lengthAdjust="spacingAndGlyphs"  stroke="#000" stroke-width="0.18">20 Jan 00:00</text>
<rect x="1711" y="33" width="1" height="744" fill="#e3e3e3"/>
<rect x="0" y="775" width="1712" height="1" fill="#e3e3e3"/>
<rect x="0" y="776" width="1712" height="1" fill="#f7f7f7"/>
</svg>
</body></html>
